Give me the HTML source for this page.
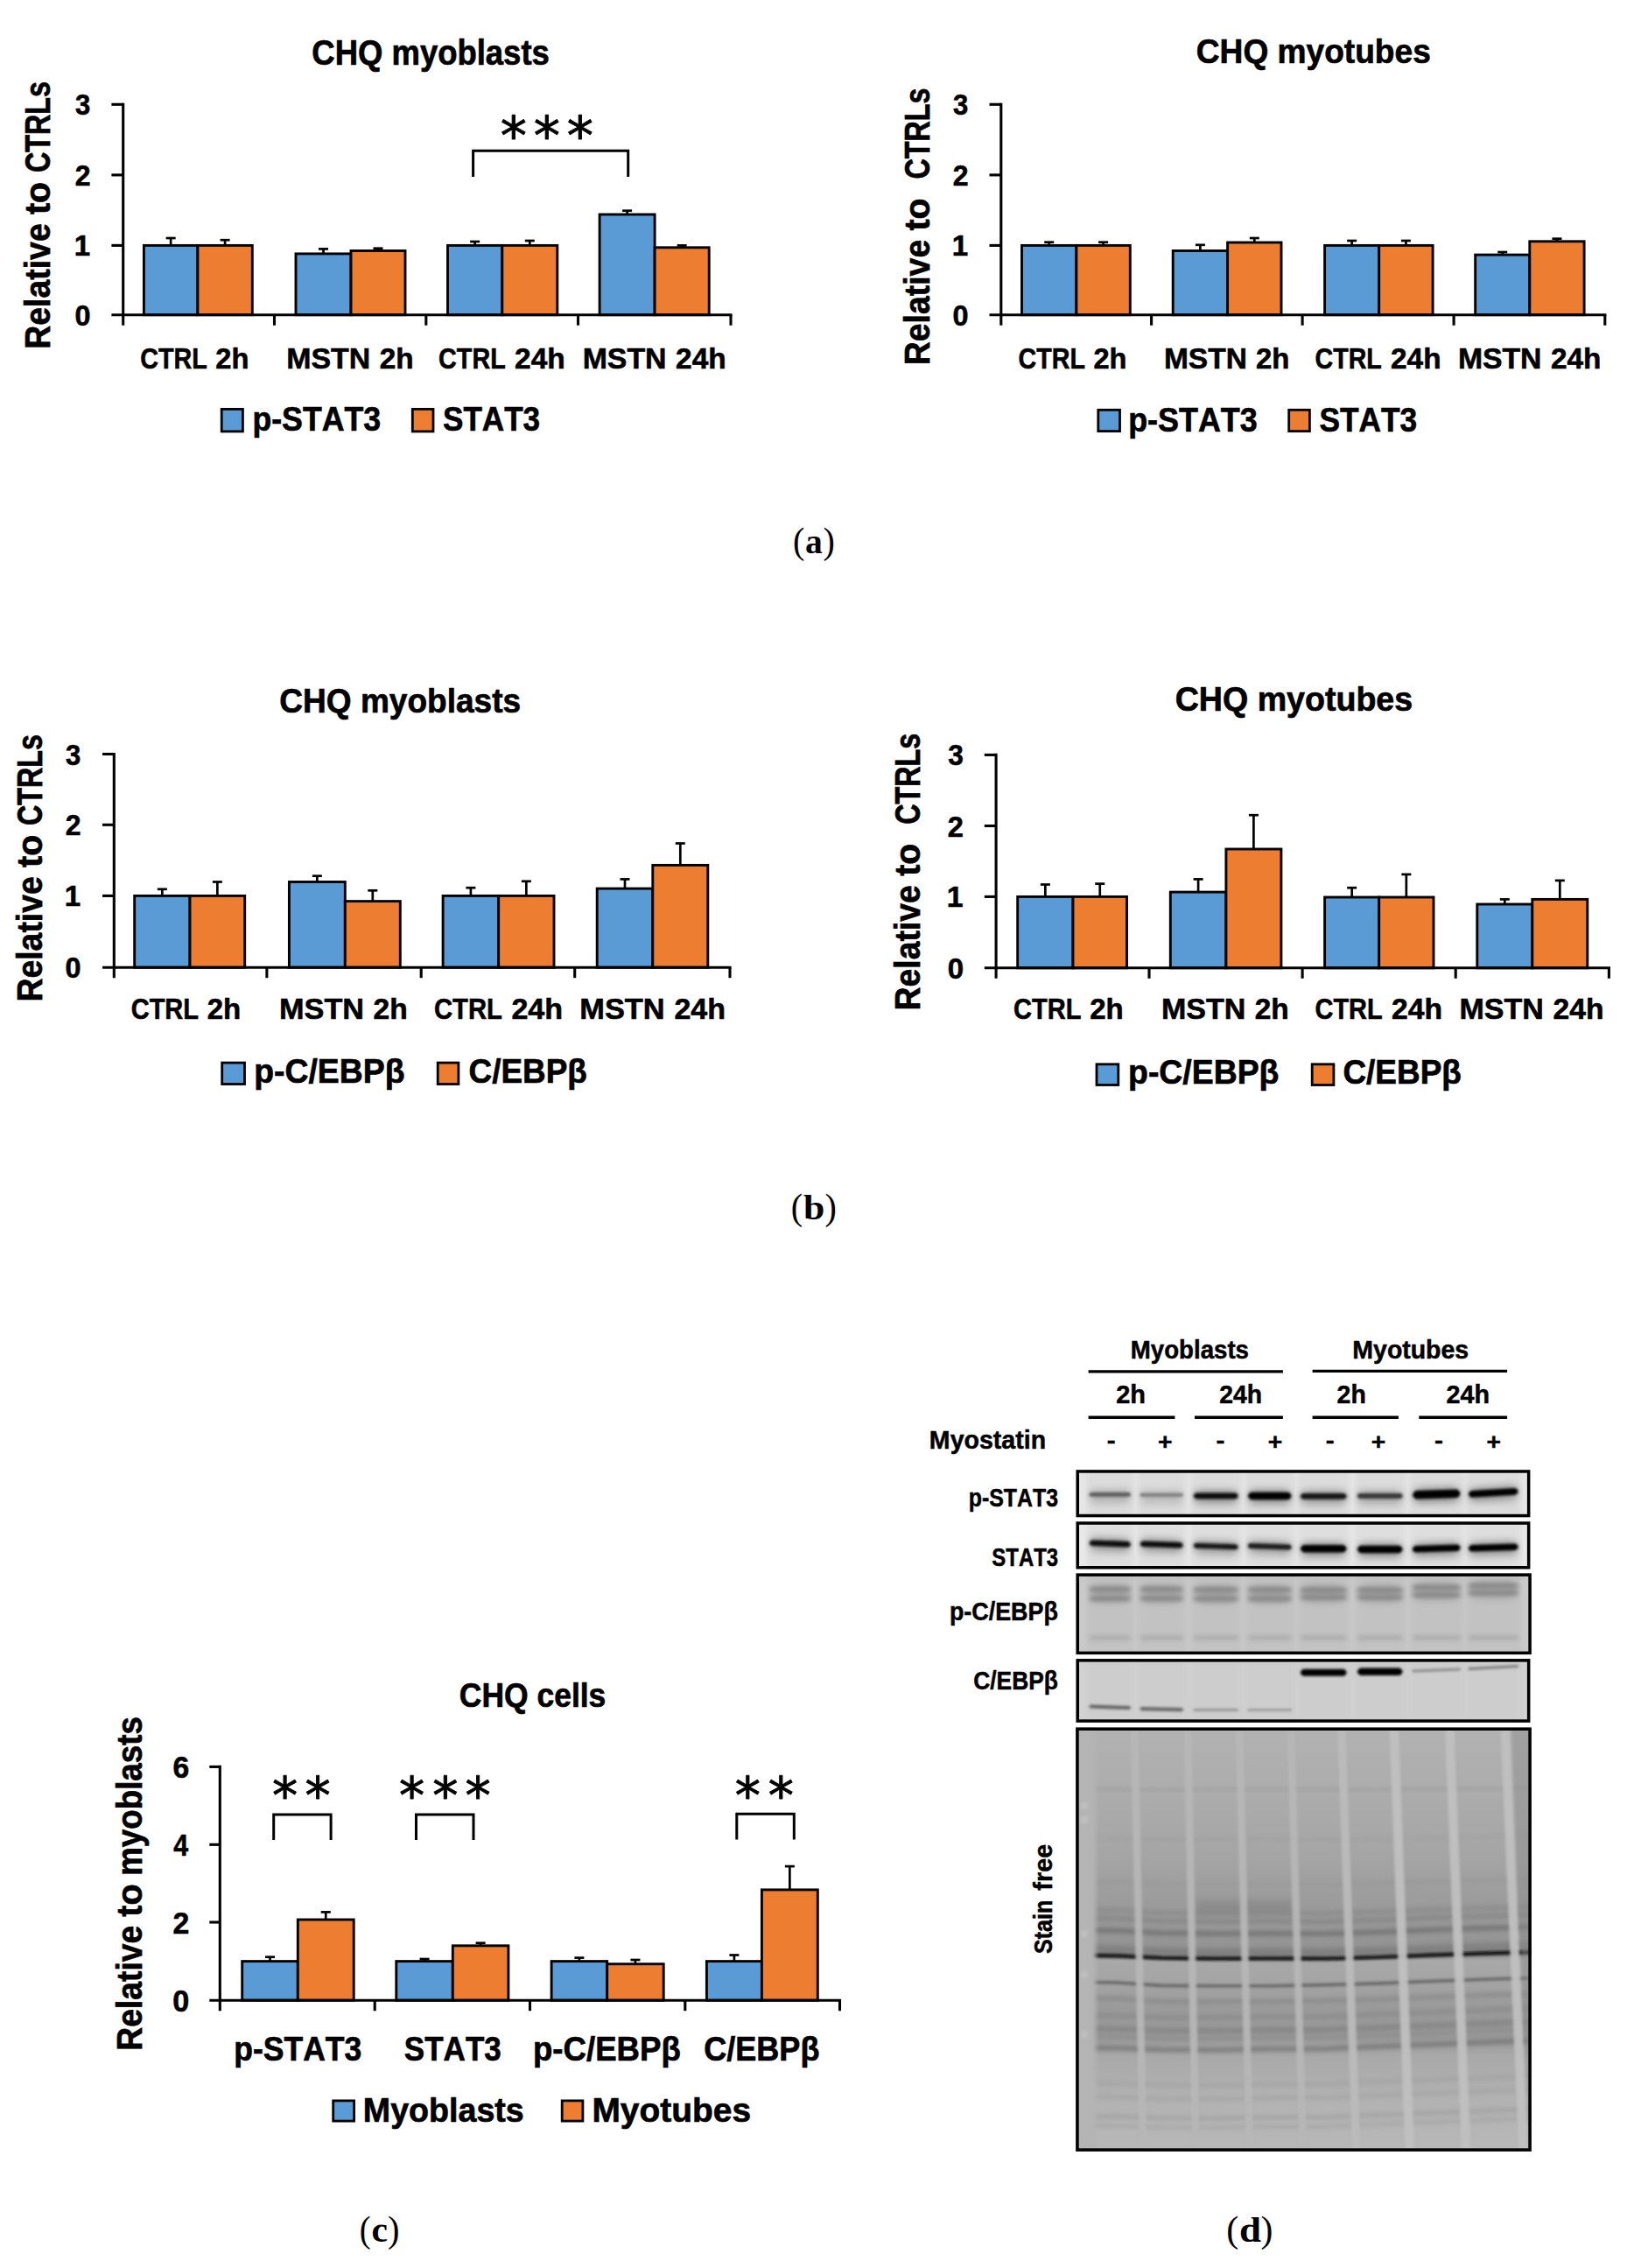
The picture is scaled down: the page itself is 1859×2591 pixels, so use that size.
<!DOCTYPE html>
<html><head><meta charset="utf-8"><title>Figure</title>
<style>html,body{margin:0;padding:0;background:#fff}svg{display:block}text{font-kerning:none}</style></head>
<body><svg width="1859" height="2591" viewBox="0 0 1859 2591">
<rect x="0" y="0" width="1859" height="2591" fill="#fff"/>
<rect x="164.40" y="280.40" width="61.50" height="79.30" fill="#5B9BD5" stroke="#000" stroke-width="2.9"/>
<rect x="225.90" y="280.40" width="62.40" height="79.30" fill="#ED7D31" stroke="#000" stroke-width="2.9"/>
<line x1="195.15" y1="280.40" x2="195.15" y2="272.00" stroke="#000" stroke-width="2.7" stroke-linecap="butt"/>
<line x1="189.65" y1="272.00" x2="200.65" y2="272.00" stroke="#000" stroke-width="2.7" stroke-linecap="butt"/>
<line x1="257.10" y1="280.40" x2="257.10" y2="274.20" stroke="#000" stroke-width="2.7" stroke-linecap="butt"/>
<line x1="251.60" y1="274.20" x2="262.60" y2="274.20" stroke="#000" stroke-width="2.7" stroke-linecap="butt"/>
<rect x="338.00" y="289.90" width="63.00" height="69.80" fill="#5B9BD5" stroke="#000" stroke-width="2.9"/>
<rect x="401.00" y="286.50" width="62.00" height="73.20" fill="#ED7D31" stroke="#000" stroke-width="2.9"/>
<line x1="369.50" y1="289.90" x2="369.50" y2="284.40" stroke="#000" stroke-width="2.7" stroke-linecap="butt"/>
<line x1="364.00" y1="284.40" x2="375.00" y2="284.40" stroke="#000" stroke-width="2.7" stroke-linecap="butt"/>
<line x1="432.00" y1="286.50" x2="432.00" y2="283.70" stroke="#000" stroke-width="2.7" stroke-linecap="butt"/>
<line x1="426.50" y1="283.70" x2="437.50" y2="283.70" stroke="#000" stroke-width="2.7" stroke-linecap="butt"/>
<rect x="511.50" y="280.40" width="62.30" height="79.30" fill="#5B9BD5" stroke="#000" stroke-width="2.9"/>
<rect x="573.80" y="280.40" width="63.00" height="79.30" fill="#ED7D31" stroke="#000" stroke-width="2.9"/>
<line x1="542.65" y1="280.40" x2="542.65" y2="276.00" stroke="#000" stroke-width="2.7" stroke-linecap="butt"/>
<line x1="537.15" y1="276.00" x2="548.15" y2="276.00" stroke="#000" stroke-width="2.7" stroke-linecap="butt"/>
<line x1="605.30" y1="280.40" x2="605.30" y2="275.00" stroke="#000" stroke-width="2.7" stroke-linecap="butt"/>
<line x1="599.80" y1="275.00" x2="610.80" y2="275.00" stroke="#000" stroke-width="2.7" stroke-linecap="butt"/>
<rect x="685.10" y="245.00" width="63.00" height="114.70" fill="#5B9BD5" stroke="#000" stroke-width="2.9"/>
<rect x="748.10" y="282.80" width="62.10" height="76.90" fill="#ED7D31" stroke="#000" stroke-width="2.9"/>
<line x1="716.60" y1="245.00" x2="716.60" y2="240.70" stroke="#000" stroke-width="2.7" stroke-linecap="butt"/>
<line x1="711.10" y1="240.70" x2="722.10" y2="240.70" stroke="#000" stroke-width="2.7" stroke-linecap="butt"/>
<line x1="779.15" y1="282.80" x2="779.15" y2="280.40" stroke="#000" stroke-width="2.7" stroke-linecap="butt"/>
<line x1="773.65" y1="280.40" x2="784.65" y2="280.40" stroke="#000" stroke-width="2.7" stroke-linecap="butt"/>
<line x1="140.70" y1="117.75" x2="140.70" y2="371.70" stroke="#000" stroke-width="3.1" stroke-linecap="butt"/>
<line x1="127.40" y1="359.70" x2="836.55" y2="359.70" stroke="#000" stroke-width="3.1" stroke-linecap="butt"/>
<line x1="127.40" y1="119.30" x2="140.70" y2="119.30" stroke="#000" stroke-width="3.1" stroke-linecap="butt"/>
<line x1="127.40" y1="199.90" x2="140.70" y2="199.90" stroke="#000" stroke-width="3.1" stroke-linecap="butt"/>
<line x1="127.40" y1="280.40" x2="140.70" y2="280.40" stroke="#000" stroke-width="3.1" stroke-linecap="butt"/>
<line x1="313.50" y1="359.70" x2="313.50" y2="371.70" stroke="#000" stroke-width="3.1" stroke-linecap="butt"/>
<line x1="486.80" y1="359.70" x2="486.80" y2="371.70" stroke="#000" stroke-width="3.1" stroke-linecap="butt"/>
<line x1="660.50" y1="359.70" x2="660.50" y2="371.70" stroke="#000" stroke-width="3.1" stroke-linecap="butt"/>
<line x1="835.00" y1="359.70" x2="835.00" y2="371.70" stroke="#000" stroke-width="3.1" stroke-linecap="butt"/>
<text transform="translate(86.09,131.30) scale(0.9111,1)" font-family="'Liberation Sans',sans-serif" font-weight="bold" font-size="34.02" fill="#000" stroke="#000" stroke-width="0.59" xml:space="preserve">3</text>
<text transform="translate(85.69,211.90) scale(0.9406,1)" font-family="'Liberation Sans',sans-serif" font-weight="bold" font-size="34.02" fill="#000" stroke="#000" stroke-width="0.59" xml:space="preserve">2</text>
<text transform="translate(84.71,292.40) scale(0.9732,1)" font-family="'Liberation Sans',sans-serif" font-weight="bold" font-size="34.02" fill="#000" stroke="#000" stroke-width="0.59" xml:space="preserve">1</text>
<text transform="translate(85.52,371.70) scale(0.9522,1)" font-family="'Liberation Sans',sans-serif" font-weight="bold" font-size="34.02" fill="#000" stroke="#000" stroke-width="0.59" xml:space="preserve">0</text>
<text transform="translate(160.22,421.20) scale(0.8442,1)" font-family="'Liberation Sans',sans-serif" font-weight="bold" font-size="34.02" fill="#000" stroke="#000" stroke-width="0.59" xml:space="preserve">CTRL</text>
<text transform="translate(246.36,421.20) scale(0.9614,1)" font-family="'Liberation Sans',sans-serif" font-weight="bold" font-size="34.02" fill="#000" stroke="#000" stroke-width="0.59" xml:space="preserve">2h</text>
<text transform="translate(327.23,421.20) scale(0.9968,1)" font-family="'Liberation Sans',sans-serif" font-weight="bold" font-size="34.02" fill="#000" stroke="#000" stroke-width="0.59" xml:space="preserve">MSTN</text>
<text transform="translate(433.66,421.20) scale(0.9801,1)" font-family="'Liberation Sans',sans-serif" font-weight="bold" font-size="34.02" fill="#000" stroke="#000" stroke-width="0.59" xml:space="preserve">2h</text>
<text transform="translate(501.12,421.20) scale(0.8445,1)" font-family="'Liberation Sans',sans-serif" font-weight="bold" font-size="34.02" fill="#000" stroke="#000" stroke-width="0.59" xml:space="preserve">CTRL</text>
<text transform="translate(588.05,421.20) scale(0.9848,1)" font-family="'Liberation Sans',sans-serif" font-weight="bold" font-size="34.02" fill="#000" stroke="#000" stroke-width="0.59" xml:space="preserve">24h</text>
<text transform="translate(665.63,421.20) scale(0.9953,1)" font-family="'Liberation Sans',sans-serif" font-weight="bold" font-size="34.02" fill="#000" stroke="#000" stroke-width="0.59" xml:space="preserve">MSTN</text>
<text transform="translate(772.09,421.20) scale(0.9840,1)" font-family="'Liberation Sans',sans-serif" font-weight="bold" font-size="34.02" fill="#000" stroke="#000" stroke-width="0.59" xml:space="preserve">24h</text>
<text transform="translate(57.05,197.07) rotate(-90) scale(0.8070,1)" font-family="'Liberation Sans',sans-serif" font-weight="bold" font-size="39.98" fill="#000" stroke="#000" stroke-width="0.70" xml:space="preserve">CTRLs</text>
<text transform="translate(57.05,245.03) rotate(-90) scale(0.9810,1)" font-family="'Liberation Sans',sans-serif" font-weight="bold" font-size="39.98" fill="#000" stroke="#000" stroke-width="0.70" xml:space="preserve">to</text>
<text transform="translate(57.05,398.65) rotate(-90) scale(0.9352,1)" font-family="'Liberation Sans',sans-serif" font-weight="bold" font-size="39.98" fill="#000" stroke="#000" stroke-width="0.70" xml:space="preserve">Relative</text>
<text transform="translate(356.35,74.25) scale(0.9121,1)" font-family="'Liberation Sans',sans-serif" font-weight="bold" font-size="39.98" fill="#000" stroke="#000" stroke-width="0.70" xml:space="preserve">CHQ myoblasts</text>
<rect x="253.20" y="467.40" width="24.20" height="25.50" fill="#5B9BD5" stroke="#000" stroke-width="2.8"/>
<text transform="translate(288.38,492.41) scale(0.9260,1)" font-family="'Liberation Sans',sans-serif" font-weight="bold" font-size="38.56" fill="#000" stroke="#000" stroke-width="0.67" xml:space="preserve">p-STAT3</text>
<rect x="471.30" y="467.40" width="23.70" height="25.50" fill="#ED7D31" stroke="#000" stroke-width="2.8"/>
<text transform="translate(506.03,492.41) scale(0.9099,1)" font-family="'Liberation Sans',sans-serif" font-weight="bold" font-size="38.56" fill="#000" stroke="#000" stroke-width="0.67" xml:space="preserve">STAT3</text>
<text x="571.83" y="175.50" font-family="'DejaVu Sans',sans-serif" font-size="60.30" fill="#000" stroke="#000" stroke-width="0.9" stroke-linejoin="round">*</text>
<text x="609.73" y="175.50" font-family="'DejaVu Sans',sans-serif" font-size="60.30" fill="#000" stroke="#000" stroke-width="0.9" stroke-linejoin="round">*</text>
<text x="647.63" y="175.50" font-family="'DejaVu Sans',sans-serif" font-size="60.30" fill="#000" stroke="#000" stroke-width="0.9" stroke-linejoin="round">*</text>
<path d="M540.60,202.00 V172.20 H717.70 V202.00" fill="none" stroke="#000" stroke-width="3" stroke-linejoin="miter"/>
<rect x="1167.50" y="280.40" width="62.40" height="79.30" fill="#5B9BD5" stroke="#000" stroke-width="2.9"/>
<rect x="1229.90" y="280.40" width="61.40" height="79.30" fill="#ED7D31" stroke="#000" stroke-width="2.9"/>
<line x1="1198.70" y1="280.40" x2="1198.70" y2="276.70" stroke="#000" stroke-width="2.7" stroke-linecap="butt"/>
<line x1="1193.20" y1="276.70" x2="1204.20" y2="276.70" stroke="#000" stroke-width="2.7" stroke-linecap="butt"/>
<line x1="1260.60" y1="280.40" x2="1260.60" y2="276.70" stroke="#000" stroke-width="2.7" stroke-linecap="butt"/>
<line x1="1255.10" y1="276.70" x2="1266.10" y2="276.70" stroke="#000" stroke-width="2.7" stroke-linecap="butt"/>
<rect x="1340.20" y="286.50" width="62.40" height="73.20" fill="#5B9BD5" stroke="#000" stroke-width="2.9"/>
<rect x="1402.60" y="277.00" width="61.40" height="82.70" fill="#ED7D31" stroke="#000" stroke-width="2.9"/>
<line x1="1371.40" y1="286.50" x2="1371.40" y2="279.80" stroke="#000" stroke-width="2.7" stroke-linecap="butt"/>
<line x1="1365.90" y1="279.80" x2="1376.90" y2="279.80" stroke="#000" stroke-width="2.7" stroke-linecap="butt"/>
<line x1="1433.30" y1="277.00" x2="1433.30" y2="272.00" stroke="#000" stroke-width="2.7" stroke-linecap="butt"/>
<line x1="1427.80" y1="272.00" x2="1438.80" y2="272.00" stroke="#000" stroke-width="2.7" stroke-linecap="butt"/>
<rect x="1513.60" y="280.40" width="62.10" height="79.30" fill="#5B9BD5" stroke="#000" stroke-width="2.9"/>
<rect x="1575.70" y="280.40" width="61.40" height="79.30" fill="#ED7D31" stroke="#000" stroke-width="2.9"/>
<line x1="1544.65" y1="280.40" x2="1544.65" y2="275.00" stroke="#000" stroke-width="2.7" stroke-linecap="butt"/>
<line x1="1539.15" y1="275.00" x2="1550.15" y2="275.00" stroke="#000" stroke-width="2.7" stroke-linecap="butt"/>
<line x1="1606.40" y1="280.40" x2="1606.40" y2="275.00" stroke="#000" stroke-width="2.7" stroke-linecap="butt"/>
<line x1="1600.90" y1="275.00" x2="1611.90" y2="275.00" stroke="#000" stroke-width="2.7" stroke-linecap="butt"/>
<rect x="1685.70" y="291.10" width="62.10" height="68.60" fill="#5B9BD5" stroke="#000" stroke-width="2.9"/>
<rect x="1747.80" y="275.80" width="62.30" height="83.90" fill="#ED7D31" stroke="#000" stroke-width="2.9"/>
<line x1="1716.75" y1="291.10" x2="1716.75" y2="288.00" stroke="#000" stroke-width="2.7" stroke-linecap="butt"/>
<line x1="1711.25" y1="288.00" x2="1722.25" y2="288.00" stroke="#000" stroke-width="2.7" stroke-linecap="butt"/>
<line x1="1778.95" y1="275.80" x2="1778.95" y2="272.70" stroke="#000" stroke-width="2.7" stroke-linecap="butt"/>
<line x1="1773.45" y1="272.70" x2="1784.45" y2="272.70" stroke="#000" stroke-width="2.7" stroke-linecap="butt"/>
<line x1="1143.80" y1="117.75" x2="1143.80" y2="371.70" stroke="#000" stroke-width="3.1" stroke-linecap="butt"/>
<line x1="1130.50" y1="359.70" x2="1835.35" y2="359.70" stroke="#000" stroke-width="3.1" stroke-linecap="butt"/>
<line x1="1130.50" y1="119.30" x2="1143.80" y2="119.30" stroke="#000" stroke-width="3.1" stroke-linecap="butt"/>
<line x1="1130.50" y1="199.90" x2="1143.80" y2="199.90" stroke="#000" stroke-width="3.1" stroke-linecap="butt"/>
<line x1="1130.50" y1="280.40" x2="1143.80" y2="280.40" stroke="#000" stroke-width="3.1" stroke-linecap="butt"/>
<line x1="1315.60" y1="359.70" x2="1315.60" y2="371.70" stroke="#000" stroke-width="3.1" stroke-linecap="butt"/>
<line x1="1488.10" y1="359.70" x2="1488.10" y2="371.70" stroke="#000" stroke-width="3.1" stroke-linecap="butt"/>
<line x1="1661.10" y1="359.70" x2="1661.10" y2="371.70" stroke="#000" stroke-width="3.1" stroke-linecap="butt"/>
<line x1="1833.80" y1="359.70" x2="1833.80" y2="371.70" stroke="#000" stroke-width="3.1" stroke-linecap="butt"/>
<text transform="translate(1089.09,131.30) scale(0.9111,1)" font-family="'Liberation Sans',sans-serif" font-weight="bold" font-size="34.02" fill="#000" stroke="#000" stroke-width="0.59" xml:space="preserve">3</text>
<text transform="translate(1088.69,211.90) scale(0.9406,1)" font-family="'Liberation Sans',sans-serif" font-weight="bold" font-size="34.02" fill="#000" stroke="#000" stroke-width="0.59" xml:space="preserve">2</text>
<text transform="translate(1087.71,292.40) scale(0.9732,1)" font-family="'Liberation Sans',sans-serif" font-weight="bold" font-size="34.02" fill="#000" stroke="#000" stroke-width="0.59" xml:space="preserve">1</text>
<text transform="translate(1088.52,371.70) scale(0.9522,1)" font-family="'Liberation Sans',sans-serif" font-weight="bold" font-size="34.02" fill="#000" stroke="#000" stroke-width="0.59" xml:space="preserve">0</text>
<text transform="translate(1163.52,421.20) scale(0.8421,1)" font-family="'Liberation Sans',sans-serif" font-weight="bold" font-size="34.02" fill="#000" stroke="#000" stroke-width="0.59" xml:space="preserve">CTRL</text>
<text transform="translate(1249.45,421.20) scale(0.9590,1)" font-family="'Liberation Sans',sans-serif" font-weight="bold" font-size="34.02" fill="#000" stroke="#000" stroke-width="0.59" xml:space="preserve">2h</text>
<text transform="translate(1329.96,421.20) scale(0.9841,1)" font-family="'Liberation Sans',sans-serif" font-weight="bold" font-size="34.02" fill="#000" stroke="#000" stroke-width="0.59" xml:space="preserve">MSTN</text>
<text transform="translate(1435.03,421.20) scale(0.9674,1)" font-family="'Liberation Sans',sans-serif" font-weight="bold" font-size="34.02" fill="#000" stroke="#000" stroke-width="0.59" xml:space="preserve">2h</text>
<text transform="translate(1502.52,421.20) scale(0.8409,1)" font-family="'Liberation Sans',sans-serif" font-weight="bold" font-size="34.02" fill="#000" stroke="#000" stroke-width="0.59" xml:space="preserve">CTRL</text>
<text transform="translate(1589.08,421.20) scale(0.9806,1)" font-family="'Liberation Sans',sans-serif" font-weight="bold" font-size="34.02" fill="#000" stroke="#000" stroke-width="0.59" xml:space="preserve">24h</text>
<text transform="translate(1665.94,421.20) scale(0.9915,1)" font-family="'Liberation Sans',sans-serif" font-weight="bold" font-size="34.02" fill="#000" stroke="#000" stroke-width="0.59" xml:space="preserve">MSTN</text>
<text transform="translate(1772.00,421.20) scale(0.9803,1)" font-family="'Liberation Sans',sans-serif" font-weight="bold" font-size="34.02" fill="#000" stroke="#000" stroke-width="0.59" xml:space="preserve">24h</text>
<text transform="translate(1061.95,204.47) rotate(-90) scale(0.8070,1)" font-family="'Liberation Sans',sans-serif" font-weight="bold" font-size="39.98" fill="#000" stroke="#000" stroke-width="0.70" xml:space="preserve">CTRLs</text>
<text transform="translate(1061.95,263.53) rotate(-90) scale(0.9810,1)" font-family="'Liberation Sans',sans-serif" font-weight="bold" font-size="39.98" fill="#000" stroke="#000" stroke-width="0.70" xml:space="preserve">to</text>
<text transform="translate(1061.95,417.15) rotate(-90) scale(0.9352,1)" font-family="'Liberation Sans',sans-serif" font-weight="bold" font-size="39.98" fill="#000" stroke="#000" stroke-width="0.70" xml:space="preserve">Relative</text>
<text transform="translate(1366.82,71.85) scale(0.9350,1)" font-family="'Liberation Sans',sans-serif" font-weight="bold" font-size="39.69" fill="#000" stroke="#000" stroke-width="0.69" xml:space="preserve">CHQ myotubes</text>
<rect x="1254.80" y="468.30" width="24.70" height="24.30" fill="#5B9BD5" stroke="#000" stroke-width="2.8"/>
<text transform="translate(1289.17,492.91) scale(0.9311,1)" font-family="'Liberation Sans',sans-serif" font-weight="bold" font-size="38.56" fill="#000" stroke="#000" stroke-width="0.67" xml:space="preserve">p-STAT3</text>
<rect x="1472.70" y="468.30" width="23.70" height="24.30" fill="#ED7D31" stroke="#000" stroke-width="2.8"/>
<text transform="translate(1507.42,492.91) scale(0.9149,1)" font-family="'Liberation Sans',sans-serif" font-weight="bold" font-size="38.56" fill="#000" stroke="#000" stroke-width="0.67" xml:space="preserve">STAT3</text>
<rect x="153.70" y="1023.40" width="63.30" height="81.80" fill="#5B9BD5" stroke="#000" stroke-width="2.9"/>
<rect x="217.00" y="1023.40" width="62.70" height="81.80" fill="#ED7D31" stroke="#000" stroke-width="2.9"/>
<line x1="185.35" y1="1023.40" x2="185.35" y2="1015.80" stroke="#000" stroke-width="2.7" stroke-linecap="butt"/>
<line x1="179.85" y1="1015.80" x2="190.85" y2="1015.80" stroke="#000" stroke-width="2.7" stroke-linecap="butt"/>
<line x1="248.35" y1="1023.40" x2="248.35" y2="1007.50" stroke="#000" stroke-width="2.7" stroke-linecap="butt"/>
<line x1="242.85" y1="1007.50" x2="253.85" y2="1007.50" stroke="#000" stroke-width="2.7" stroke-linecap="butt"/>
<rect x="330.40" y="1007.50" width="63.90" height="97.70" fill="#5B9BD5" stroke="#000" stroke-width="2.9"/>
<rect x="394.30" y="1029.60" width="63.00" height="75.60" fill="#ED7D31" stroke="#000" stroke-width="2.9"/>
<line x1="362.35" y1="1007.50" x2="362.35" y2="1000.70" stroke="#000" stroke-width="2.7" stroke-linecap="butt"/>
<line x1="356.85" y1="1000.70" x2="367.85" y2="1000.70" stroke="#000" stroke-width="2.7" stroke-linecap="butt"/>
<line x1="425.80" y1="1029.60" x2="425.80" y2="1017.30" stroke="#000" stroke-width="2.7" stroke-linecap="butt"/>
<line x1="420.30" y1="1017.30" x2="431.30" y2="1017.30" stroke="#000" stroke-width="2.7" stroke-linecap="butt"/>
<rect x="506.10" y="1023.40" width="63.60" height="81.80" fill="#5B9BD5" stroke="#000" stroke-width="2.9"/>
<rect x="569.70" y="1023.40" width="63.30" height="81.80" fill="#ED7D31" stroke="#000" stroke-width="2.9"/>
<line x1="537.90" y1="1023.40" x2="537.90" y2="1014.20" stroke="#000" stroke-width="2.7" stroke-linecap="butt"/>
<line x1="532.40" y1="1014.20" x2="543.40" y2="1014.20" stroke="#000" stroke-width="2.7" stroke-linecap="butt"/>
<line x1="601.35" y1="1023.40" x2="601.35" y2="1006.80" stroke="#000" stroke-width="2.7" stroke-linecap="butt"/>
<line x1="595.85" y1="1006.80" x2="606.85" y2="1006.80" stroke="#000" stroke-width="2.7" stroke-linecap="butt"/>
<rect x="682.20" y="1015.10" width="63.60" height="90.10" fill="#5B9BD5" stroke="#000" stroke-width="2.9"/>
<rect x="745.80" y="988.40" width="63.00" height="116.80" fill="#ED7D31" stroke="#000" stroke-width="2.9"/>
<line x1="714.00" y1="1015.10" x2="714.00" y2="1004.40" stroke="#000" stroke-width="2.7" stroke-linecap="butt"/>
<line x1="708.50" y1="1004.40" x2="719.50" y2="1004.40" stroke="#000" stroke-width="2.7" stroke-linecap="butt"/>
<line x1="777.30" y1="988.40" x2="777.30" y2="963.50" stroke="#000" stroke-width="2.7" stroke-linecap="butt"/>
<line x1="771.80" y1="963.50" x2="782.80" y2="963.50" stroke="#000" stroke-width="2.7" stroke-linecap="butt"/>
<line x1="130.30" y1="859.95" x2="130.30" y2="1117.20" stroke="#000" stroke-width="3.1" stroke-linecap="butt"/>
<line x1="117.00" y1="1105.20" x2="835.55" y2="1105.20" stroke="#000" stroke-width="3.1" stroke-linecap="butt"/>
<line x1="117.00" y1="861.50" x2="130.30" y2="861.50" stroke="#000" stroke-width="3.1" stroke-linecap="butt"/>
<line x1="117.00" y1="942.30" x2="130.30" y2="942.30" stroke="#000" stroke-width="3.1" stroke-linecap="butt"/>
<line x1="117.00" y1="1023.40" x2="130.30" y2="1023.40" stroke="#000" stroke-width="3.1" stroke-linecap="butt"/>
<line x1="304.90" y1="1105.20" x2="304.90" y2="1117.20" stroke="#000" stroke-width="3.1" stroke-linecap="butt"/>
<line x1="481.20" y1="1105.20" x2="481.20" y2="1117.20" stroke="#000" stroke-width="3.1" stroke-linecap="butt"/>
<line x1="656.70" y1="1105.20" x2="656.70" y2="1117.20" stroke="#000" stroke-width="3.1" stroke-linecap="butt"/>
<line x1="834.00" y1="1105.20" x2="834.00" y2="1117.20" stroke="#000" stroke-width="3.1" stroke-linecap="butt"/>
<text transform="translate(75.09,873.50) scale(0.9111,1)" font-family="'Liberation Sans',sans-serif" font-weight="bold" font-size="34.02" fill="#000" stroke="#000" stroke-width="0.59" xml:space="preserve">3</text>
<text transform="translate(74.69,954.30) scale(0.9406,1)" font-family="'Liberation Sans',sans-serif" font-weight="bold" font-size="34.02" fill="#000" stroke="#000" stroke-width="0.59" xml:space="preserve">2</text>
<text transform="translate(73.71,1035.40) scale(0.9732,1)" font-family="'Liberation Sans',sans-serif" font-weight="bold" font-size="34.02" fill="#000" stroke="#000" stroke-width="0.59" xml:space="preserve">1</text>
<text transform="translate(74.52,1117.20) scale(0.9522,1)" font-family="'Liberation Sans',sans-serif" font-weight="bold" font-size="34.02" fill="#000" stroke="#000" stroke-width="0.59" xml:space="preserve">0</text>
<text transform="translate(149.71,1163.90) scale(0.8526,1)" font-family="'Liberation Sans',sans-serif" font-weight="bold" font-size="34.02" fill="#000" stroke="#000" stroke-width="0.59" xml:space="preserve">CTRL</text>
<text transform="translate(236.70,1163.90) scale(0.9710,1)" font-family="'Liberation Sans',sans-serif" font-weight="bold" font-size="34.02" fill="#000" stroke="#000" stroke-width="0.59" xml:space="preserve">2h</text>
<text transform="translate(319.11,1163.90) scale(1.0060,1)" font-family="'Liberation Sans',sans-serif" font-weight="bold" font-size="34.02" fill="#000" stroke="#000" stroke-width="0.59" xml:space="preserve">MSTN</text>
<text transform="translate(426.51,1163.90) scale(0.9892,1)" font-family="'Liberation Sans',sans-serif" font-weight="bold" font-size="34.02" fill="#000" stroke="#000" stroke-width="0.59" xml:space="preserve">2h</text>
<text transform="translate(496.00,1163.90) scale(0.8589,1)" font-family="'Liberation Sans',sans-serif" font-weight="bold" font-size="34.02" fill="#000" stroke="#000" stroke-width="0.59" xml:space="preserve">CTRL</text>
<text transform="translate(584.40,1163.90) scale(1.0016,1)" font-family="'Liberation Sans',sans-serif" font-weight="bold" font-size="34.02" fill="#000" stroke="#000" stroke-width="0.59" xml:space="preserve">24h</text>
<text transform="translate(662.30,1163.90) scale(1.0109,1)" font-family="'Liberation Sans',sans-serif" font-weight="bold" font-size="34.02" fill="#000" stroke="#000" stroke-width="0.59" xml:space="preserve">MSTN</text>
<text transform="translate(770.42,1163.90) scale(0.9995,1)" font-family="'Liberation Sans',sans-serif" font-weight="bold" font-size="34.02" fill="#000" stroke="#000" stroke-width="0.59" xml:space="preserve">24h</text>
<text transform="translate(48.45,942.97) rotate(-90) scale(0.8070,1)" font-family="'Liberation Sans',sans-serif" font-weight="bold" font-size="39.98" fill="#000" stroke="#000" stroke-width="0.70" xml:space="preserve">CTRLs</text>
<text transform="translate(48.45,990.93) rotate(-90) scale(0.9810,1)" font-family="'Liberation Sans',sans-serif" font-weight="bold" font-size="39.98" fill="#000" stroke="#000" stroke-width="0.70" xml:space="preserve">to</text>
<text transform="translate(48.45,1144.55) rotate(-90) scale(0.9352,1)" font-family="'Liberation Sans',sans-serif" font-weight="bold" font-size="39.98" fill="#000" stroke="#000" stroke-width="0.70" xml:space="preserve">Relative</text>
<text transform="translate(319.33,813.65) scale(0.9336,1)" font-family="'Liberation Sans',sans-serif" font-weight="bold" font-size="39.69" fill="#000" stroke="#000" stroke-width="0.69" xml:space="preserve">CHQ myoblasts</text>
<rect x="253.70" y="1214.10" width="25.80" height="24.40" fill="#5B9BD5" stroke="#000" stroke-width="2.8"/>
<text transform="translate(290.17,1237.41) scale(0.9695,1)" font-family="'Liberation Sans',sans-serif" font-weight="bold" font-size="38.56" fill="#000" stroke="#000" stroke-width="0.67" xml:space="preserve">p-C/EBPβ</text>
<rect x="500.20" y="1214.10" width="23.70" height="24.40" fill="#ED7D31" stroke="#000" stroke-width="2.8"/>
<text transform="translate(535.52,1237.41) scale(0.9569,1)" font-family="'Liberation Sans',sans-serif" font-weight="bold" font-size="38.56" fill="#000" stroke="#000" stroke-width="0.67" xml:space="preserve">C/EBPβ</text>
<rect x="1162.70" y="1024.40" width="63.30" height="81.40" fill="#5B9BD5" stroke="#000" stroke-width="2.9"/>
<rect x="1226.00" y="1024.40" width="61.50" height="81.40" fill="#ED7D31" stroke="#000" stroke-width="2.9"/>
<line x1="1194.35" y1="1024.40" x2="1194.35" y2="1010.50" stroke="#000" stroke-width="2.7" stroke-linecap="butt"/>
<line x1="1188.85" y1="1010.50" x2="1199.85" y2="1010.50" stroke="#000" stroke-width="2.7" stroke-linecap="butt"/>
<line x1="1256.75" y1="1024.40" x2="1256.75" y2="1009.60" stroke="#000" stroke-width="2.7" stroke-linecap="butt"/>
<line x1="1251.25" y1="1009.60" x2="1262.25" y2="1009.60" stroke="#000" stroke-width="2.7" stroke-linecap="butt"/>
<rect x="1337.30" y="1019.10" width="63.60" height="86.70" fill="#5B9BD5" stroke="#000" stroke-width="2.9"/>
<rect x="1400.90" y="970.00" width="63.00" height="135.80" fill="#ED7D31" stroke="#000" stroke-width="2.9"/>
<line x1="1369.10" y1="1019.10" x2="1369.10" y2="1004.40" stroke="#000" stroke-width="2.7" stroke-linecap="butt"/>
<line x1="1363.60" y1="1004.40" x2="1374.60" y2="1004.40" stroke="#000" stroke-width="2.7" stroke-linecap="butt"/>
<line x1="1432.40" y1="970.00" x2="1432.40" y2="931.20" stroke="#000" stroke-width="2.7" stroke-linecap="butt"/>
<line x1="1426.90" y1="931.20" x2="1437.90" y2="931.20" stroke="#000" stroke-width="2.7" stroke-linecap="butt"/>
<rect x="1513.60" y="1025.00" width="62.10" height="80.80" fill="#5B9BD5" stroke="#000" stroke-width="2.9"/>
<rect x="1575.70" y="1025.00" width="62.30" height="80.80" fill="#ED7D31" stroke="#000" stroke-width="2.9"/>
<line x1="1544.65" y1="1025.00" x2="1544.65" y2="1014.20" stroke="#000" stroke-width="2.7" stroke-linecap="butt"/>
<line x1="1539.15" y1="1014.20" x2="1550.15" y2="1014.20" stroke="#000" stroke-width="2.7" stroke-linecap="butt"/>
<line x1="1606.85" y1="1025.00" x2="1606.85" y2="998.90" stroke="#000" stroke-width="2.7" stroke-linecap="butt"/>
<line x1="1601.35" y1="998.90" x2="1612.35" y2="998.90" stroke="#000" stroke-width="2.7" stroke-linecap="butt"/>
<rect x="1687.80" y="1033.00" width="63.00" height="72.80" fill="#5B9BD5" stroke="#000" stroke-width="2.9"/>
<rect x="1750.80" y="1027.40" width="63.00" height="78.40" fill="#ED7D31" stroke="#000" stroke-width="2.9"/>
<line x1="1719.30" y1="1033.00" x2="1719.30" y2="1027.40" stroke="#000" stroke-width="2.7" stroke-linecap="butt"/>
<line x1="1713.80" y1="1027.40" x2="1724.80" y2="1027.40" stroke="#000" stroke-width="2.7" stroke-linecap="butt"/>
<line x1="1782.30" y1="1027.40" x2="1782.30" y2="1005.90" stroke="#000" stroke-width="2.7" stroke-linecap="butt"/>
<line x1="1776.80" y1="1005.90" x2="1787.80" y2="1005.90" stroke="#000" stroke-width="2.7" stroke-linecap="butt"/>
<line x1="1138.10" y1="860.85" x2="1138.10" y2="1117.80" stroke="#000" stroke-width="3.1" stroke-linecap="butt"/>
<line x1="1124.80" y1="1105.80" x2="1839.95" y2="1105.80" stroke="#000" stroke-width="3.1" stroke-linecap="butt"/>
<line x1="1124.80" y1="862.40" x2="1138.10" y2="862.40" stroke="#000" stroke-width="3.1" stroke-linecap="butt"/>
<line x1="1124.80" y1="943.50" x2="1138.10" y2="943.50" stroke="#000" stroke-width="3.1" stroke-linecap="butt"/>
<line x1="1124.80" y1="1024.40" x2="1138.10" y2="1024.40" stroke="#000" stroke-width="3.1" stroke-linecap="butt"/>
<line x1="1313.00" y1="1105.80" x2="1313.00" y2="1117.80" stroke="#000" stroke-width="3.1" stroke-linecap="butt"/>
<line x1="1488.10" y1="1105.80" x2="1488.10" y2="1117.80" stroke="#000" stroke-width="3.1" stroke-linecap="butt"/>
<line x1="1663.20" y1="1105.80" x2="1663.20" y2="1117.80" stroke="#000" stroke-width="3.1" stroke-linecap="butt"/>
<line x1="1838.40" y1="1105.80" x2="1838.40" y2="1117.80" stroke="#000" stroke-width="3.1" stroke-linecap="butt"/>
<text transform="translate(1083.27,874.40) scale(0.9288,1)" font-family="'Liberation Sans',sans-serif" font-weight="bold" font-size="34.02" fill="#000" stroke="#000" stroke-width="0.59" xml:space="preserve">3</text>
<text transform="translate(1082.87,955.50) scale(0.9589,1)" font-family="'Liberation Sans',sans-serif" font-weight="bold" font-size="34.02" fill="#000" stroke="#000" stroke-width="0.59" xml:space="preserve">2</text>
<text transform="translate(1081.87,1036.40) scale(0.9921,1)" font-family="'Liberation Sans',sans-serif" font-weight="bold" font-size="34.02" fill="#000" stroke="#000" stroke-width="0.59" xml:space="preserve">1</text>
<text transform="translate(1082.69,1117.80) scale(0.9707,1)" font-family="'Liberation Sans',sans-serif" font-weight="bold" font-size="34.02" fill="#000" stroke="#000" stroke-width="0.59" xml:space="preserve">0</text>
<text transform="translate(1158.11,1164.20) scale(0.8533,1)" font-family="'Liberation Sans',sans-serif" font-weight="bold" font-size="34.02" fill="#000" stroke="#000" stroke-width="0.59" xml:space="preserve">CTRL</text>
<text transform="translate(1245.17,1164.20) scale(0.9718,1)" font-family="'Liberation Sans',sans-serif" font-weight="bold" font-size="34.02" fill="#000" stroke="#000" stroke-width="0.59" xml:space="preserve">2h</text>
<text transform="translate(1327.02,1164.20) scale(0.9996,1)" font-family="'Liberation Sans',sans-serif" font-weight="bold" font-size="34.02" fill="#000" stroke="#000" stroke-width="0.59" xml:space="preserve">MSTN</text>
<text transform="translate(1433.75,1164.20) scale(0.9829,1)" font-family="'Liberation Sans',sans-serif" font-weight="bold" font-size="34.02" fill="#000" stroke="#000" stroke-width="0.59" xml:space="preserve">2h</text>
<text transform="translate(1502.51,1164.20) scale(0.8499,1)" font-family="'Liberation Sans',sans-serif" font-weight="bold" font-size="34.02" fill="#000" stroke="#000" stroke-width="0.59" xml:space="preserve">CTRL</text>
<text transform="translate(1589.99,1164.20) scale(0.9911,1)" font-family="'Liberation Sans',sans-serif" font-weight="bold" font-size="34.02" fill="#000" stroke="#000" stroke-width="0.59" xml:space="preserve">24h</text>
<text transform="translate(1667.42,1164.20) scale(1.0009,1)" font-family="'Liberation Sans',sans-serif" font-weight="bold" font-size="34.02" fill="#000" stroke="#000" stroke-width="0.59" xml:space="preserve">MSTN</text>
<text transform="translate(1774.48,1164.20) scale(0.9896,1)" font-family="'Liberation Sans',sans-serif" font-weight="bold" font-size="34.02" fill="#000" stroke="#000" stroke-width="0.59" xml:space="preserve">24h</text>
<text transform="translate(1050.85,941.77) rotate(-90) scale(0.8070,1)" font-family="'Liberation Sans',sans-serif" font-weight="bold" font-size="39.98" fill="#000" stroke="#000" stroke-width="0.70" xml:space="preserve">CTRLs</text>
<text transform="translate(1050.85,1000.83) rotate(-90) scale(0.9810,1)" font-family="'Liberation Sans',sans-serif" font-weight="bold" font-size="39.98" fill="#000" stroke="#000" stroke-width="0.70" xml:space="preserve">to</text>
<text transform="translate(1050.85,1154.45) rotate(-90) scale(0.9352,1)" font-family="'Liberation Sans',sans-serif" font-weight="bold" font-size="39.98" fill="#000" stroke="#000" stroke-width="0.70" xml:space="preserve">Relative</text>
<text transform="translate(1342.70,811.85) scale(0.9473,1)" font-family="'Liberation Sans',sans-serif" font-weight="bold" font-size="39.69" fill="#000" stroke="#000" stroke-width="0.69" xml:space="preserve">CHQ myotubes</text>
<rect x="1253.00" y="1215.80" width="24.80" height="23.70" fill="#5B9BD5" stroke="#000" stroke-width="2.8"/>
<text transform="translate(1289.07,1238.41) scale(0.9701,1)" font-family="'Liberation Sans',sans-serif" font-weight="bold" font-size="38.56" fill="#000" stroke="#000" stroke-width="0.67" xml:space="preserve">p-C/EBPβ</text>
<rect x="1499.20" y="1215.80" width="24.70" height="23.70" fill="#ED7D31" stroke="#000" stroke-width="2.8"/>
<text transform="translate(1534.42,1238.41) scale(0.9577,1)" font-family="'Liberation Sans',sans-serif" font-weight="bold" font-size="38.56" fill="#000" stroke="#000" stroke-width="0.67" xml:space="preserve">C/EBPβ</text>
<rect x="276.70" y="2240.60" width="63.60" height="44.60" fill="#5B9BD5" stroke="#000" stroke-width="2.9"/>
<rect x="340.30" y="2193.00" width="63.90" height="92.20" fill="#ED7D31" stroke="#000" stroke-width="2.9"/>
<line x1="308.50" y1="2240.60" x2="308.50" y2="2235.70" stroke="#000" stroke-width="2.7" stroke-linecap="butt"/>
<line x1="303.00" y1="2235.70" x2="314.00" y2="2235.70" stroke="#000" stroke-width="2.7" stroke-linecap="butt"/>
<line x1="372.25" y1="2193.00" x2="372.25" y2="2184.40" stroke="#000" stroke-width="2.7" stroke-linecap="butt"/>
<line x1="366.75" y1="2184.40" x2="377.75" y2="2184.40" stroke="#000" stroke-width="2.7" stroke-linecap="butt"/>
<rect x="452.80" y="2240.60" width="64.50" height="44.60" fill="#5B9BD5" stroke="#000" stroke-width="2.9"/>
<rect x="517.30" y="2222.80" width="63.60" height="62.40" fill="#ED7D31" stroke="#000" stroke-width="2.9"/>
<line x1="485.05" y1="2240.60" x2="485.05" y2="2238.00" stroke="#000" stroke-width="2.7" stroke-linecap="butt"/>
<line x1="479.55" y1="2238.00" x2="490.55" y2="2238.00" stroke="#000" stroke-width="2.7" stroke-linecap="butt"/>
<line x1="549.10" y1="2222.80" x2="549.10" y2="2219.70" stroke="#000" stroke-width="2.7" stroke-linecap="butt"/>
<line x1="543.60" y1="2219.70" x2="554.60" y2="2219.70" stroke="#000" stroke-width="2.7" stroke-linecap="butt"/>
<rect x="630.10" y="2240.60" width="63.60" height="44.60" fill="#5B9BD5" stroke="#000" stroke-width="2.9"/>
<rect x="693.70" y="2243.70" width="64.50" height="41.50" fill="#ED7D31" stroke="#000" stroke-width="2.9"/>
<line x1="661.90" y1="2240.60" x2="661.90" y2="2236.60" stroke="#000" stroke-width="2.7" stroke-linecap="butt"/>
<line x1="656.40" y1="2236.60" x2="667.40" y2="2236.60" stroke="#000" stroke-width="2.7" stroke-linecap="butt"/>
<line x1="725.95" y1="2243.70" x2="725.95" y2="2239.00" stroke="#000" stroke-width="2.7" stroke-linecap="butt"/>
<line x1="720.45" y1="2239.00" x2="731.45" y2="2239.00" stroke="#000" stroke-width="2.7" stroke-linecap="butt"/>
<rect x="807.40" y="2240.60" width="63.00" height="44.60" fill="#5B9BD5" stroke="#000" stroke-width="2.9"/>
<rect x="870.40" y="2158.90" width="63.90" height="126.30" fill="#ED7D31" stroke="#000" stroke-width="2.9"/>
<line x1="838.90" y1="2240.60" x2="838.90" y2="2233.50" stroke="#000" stroke-width="2.7" stroke-linecap="butt"/>
<line x1="833.40" y1="2233.50" x2="844.40" y2="2233.50" stroke="#000" stroke-width="2.7" stroke-linecap="butt"/>
<line x1="902.35" y1="2158.90" x2="902.35" y2="2132.10" stroke="#000" stroke-width="2.7" stroke-linecap="butt"/>
<line x1="896.85" y1="2132.10" x2="907.85" y2="2132.10" stroke="#000" stroke-width="2.7" stroke-linecap="butt"/>
<line x1="251.30" y1="2016.85" x2="251.30" y2="2297.20" stroke="#000" stroke-width="3.1" stroke-linecap="butt"/>
<line x1="239.30" y1="2285.20" x2="961.05" y2="2285.20" stroke="#000" stroke-width="3.1" stroke-linecap="butt"/>
<line x1="239.30" y1="2018.40" x2="251.30" y2="2018.40" stroke="#000" stroke-width="3.1" stroke-linecap="butt"/>
<line x1="239.30" y1="2107.30" x2="251.30" y2="2107.30" stroke="#000" stroke-width="3.1" stroke-linecap="butt"/>
<line x1="239.30" y1="2196.00" x2="251.30" y2="2196.00" stroke="#000" stroke-width="3.1" stroke-linecap="butt"/>
<line x1="428.20" y1="2285.20" x2="428.20" y2="2297.20" stroke="#000" stroke-width="3.1" stroke-linecap="butt"/>
<line x1="605.50" y1="2285.20" x2="605.50" y2="2297.20" stroke="#000" stroke-width="3.1" stroke-linecap="butt"/>
<line x1="782.80" y1="2285.20" x2="782.80" y2="2297.20" stroke="#000" stroke-width="3.1" stroke-linecap="butt"/>
<line x1="959.50" y1="2285.20" x2="959.50" y2="2297.20" stroke="#000" stroke-width="3.1" stroke-linecap="butt"/>
<text transform="translate(197.48,2031.04) scale(0.9387,1)" font-family="'Liberation Sans',sans-serif" font-weight="bold" font-size="35.86" fill="#000" stroke="#000" stroke-width="0.63" xml:space="preserve">6</text>
<text transform="translate(198.25,2119.94) scale(0.8472,1)" font-family="'Liberation Sans',sans-serif" font-weight="bold" font-size="35.86" fill="#000" stroke="#000" stroke-width="0.63" xml:space="preserve">4</text>
<text transform="translate(197.54,2208.64) scale(0.9425,1)" font-family="'Liberation Sans',sans-serif" font-weight="bold" font-size="35.86" fill="#000" stroke="#000" stroke-width="0.63" xml:space="preserve">2</text>
<text transform="translate(197.36,2297.84) scale(0.9542,1)" font-family="'Liberation Sans',sans-serif" font-weight="bold" font-size="35.86" fill="#000" stroke="#000" stroke-width="0.63" xml:space="preserve">0</text>
<text transform="translate(267.20,2353.95) scale(0.8956,1)" font-family="'Liberation Sans',sans-serif" font-weight="bold" font-size="39.69" fill="#000" stroke="#000" stroke-width="0.69" xml:space="preserve">p-STAT3</text>
<text transform="translate(461.84,2353.95) scale(0.8829,1)" font-family="'Liberation Sans',sans-serif" font-weight="bold" font-size="39.69" fill="#000" stroke="#000" stroke-width="0.69" xml:space="preserve">STAT3</text>
<text transform="translate(608.93,2353.95) scale(0.9233,1)" font-family="'Liberation Sans',sans-serif" font-weight="bold" font-size="39.69" fill="#000" stroke="#000" stroke-width="0.69" xml:space="preserve">p-C/EBPβ</text>
<text transform="translate(804.17,2353.95) scale(0.9091,1)" font-family="'Liberation Sans',sans-serif" font-weight="bold" font-size="39.69" fill="#000" stroke="#000" stroke-width="0.69" xml:space="preserve">C/EBPβ</text>
<text transform="translate(162.15,2142.87) rotate(-90) scale(0.9196,1)" font-family="'Liberation Sans',sans-serif" font-weight="bold" font-size="39.98" fill="#000" stroke="#000" stroke-width="0.70" xml:space="preserve">myoblasts</text>
<text transform="translate(162.15,2189.74) rotate(-90) scale(0.9922,1)" font-family="'Liberation Sans',sans-serif" font-weight="bold" font-size="39.98" fill="#000" stroke="#000" stroke-width="0.70" xml:space="preserve">to</text>
<text transform="translate(162.15,2342.64) rotate(-90) scale(0.9318,1)" font-family="'Liberation Sans',sans-serif" font-weight="bold" font-size="39.98" fill="#000" stroke="#000" stroke-width="0.70" xml:space="preserve">Relative</text>
<text transform="translate(524.79,1950.45) scale(0.8939,1)" font-family="'Liberation Sans',sans-serif" font-weight="bold" font-size="39.69" fill="#000" stroke="#000" stroke-width="0.69" xml:space="preserve">CHQ cells</text>
<rect x="380.70" y="2399.90" width="23.90" height="23.20" fill="#5B9BD5" stroke="#000" stroke-width="2.8"/>
<text transform="translate(414.83,2424.15) scale(0.9483,1)" font-family="'Liberation Sans',sans-serif" font-weight="bold" font-size="39.69" fill="#000" stroke="#000" stroke-width="0.69" xml:space="preserve">Myoblasts</text>
<rect x="642.20" y="2399.90" width="23.70" height="23.20" fill="#ED7D31" stroke="#000" stroke-width="2.8"/>
<text transform="translate(676.44,2424.15) scale(0.9809,1)" font-family="'Liberation Sans',sans-serif" font-weight="bold" font-size="39.69" fill="#000" stroke="#000" stroke-width="0.69" xml:space="preserve">Myotubes</text>
<text x="310.92" y="2071.94" font-family="'DejaVu Sans',sans-serif" font-size="58.33" fill="#000" stroke="#000" stroke-width="0.9" stroke-linejoin="round">*</text>
<text x="348.62" y="2071.94" font-family="'DejaVu Sans',sans-serif" font-size="58.33" fill="#000" stroke="#000" stroke-width="0.9" stroke-linejoin="round">*</text>
<text x="456.02" y="2071.94" font-family="'DejaVu Sans',sans-serif" font-size="58.33" fill="#000" stroke="#000" stroke-width="0.9" stroke-linejoin="round">*</text>
<text x="494.32" y="2071.94" font-family="'DejaVu Sans',sans-serif" font-size="58.33" fill="#000" stroke="#000" stroke-width="0.9" stroke-linejoin="round">*</text>
<text x="531.42" y="2071.94" font-family="'DejaVu Sans',sans-serif" font-size="58.33" fill="#000" stroke="#000" stroke-width="0.9" stroke-linejoin="round">*</text>
<text x="839.82" y="2071.94" font-family="'DejaVu Sans',sans-serif" font-size="58.33" fill="#000" stroke="#000" stroke-width="0.9" stroke-linejoin="round">*</text>
<text x="877.72" y="2071.94" font-family="'DejaVu Sans',sans-serif" font-size="58.33" fill="#000" stroke="#000" stroke-width="0.9" stroke-linejoin="round">*</text>
<path d="M312.70,2102.00 V2073.10 H378.10 V2102.00" fill="none" stroke="#000" stroke-width="3" stroke-linejoin="miter"/>
<path d="M475.50,2102.00 V2073.10 H541.00 V2102.00" fill="none" stroke="#000" stroke-width="3" stroke-linejoin="miter"/>
<path d="M841.80,2101.40 V2072.20 H907.30 V2101.40" fill="none" stroke="#000" stroke-width="3" stroke-linejoin="miter"/>
<text transform="translate(906.04,631.60) scale(0.9663,1)" font-family="'Liberation Serif',sans-serif" font-weight="normal" font-size="41.50" fill="#000" xml:space="preserve">(</text>
<text transform="translate(920.03,631.60) scale(0.9674,1)" font-family="'Liberation Serif',sans-serif" font-weight="bold" font-size="40.88" fill="#000" xml:space="preserve">a</text>
<text transform="translate(940.51,631.60) scale(0.9663,1)" font-family="'Liberation Serif',sans-serif" font-weight="normal" font-size="41.50" fill="#000" xml:space="preserve">)</text>
<text transform="translate(903.84,1393.00) scale(0.9663,1)" font-family="'Liberation Serif',sans-serif" font-weight="normal" font-size="41.50" fill="#000" xml:space="preserve">(</text>
<text transform="translate(917.94,1393.00) scale(1.0701,1)" font-family="'Liberation Serif',sans-serif" font-weight="bold" font-size="40.88" fill="#000" xml:space="preserve">b</text>
<text transform="translate(942.61,1393.00) scale(0.9663,1)" font-family="'Liberation Serif',sans-serif" font-weight="normal" font-size="41.50" fill="#000" xml:space="preserve">)</text>
<text transform="translate(410.81,2561.10) scale(0.9288,1)" font-family="'Liberation Serif',sans-serif" font-weight="normal" font-size="41.50" fill="#000" xml:space="preserve">(</text>
<text transform="translate(424.38,2561.10) scale(1.0173,1)" font-family="'Liberation Serif',sans-serif" font-weight="bold" font-size="40.88" fill="#000" xml:space="preserve">c</text>
<text transform="translate(443.00,2561.10) scale(0.9757,1)" font-family="'Liberation Serif',sans-serif" font-weight="normal" font-size="41.50" fill="#000" xml:space="preserve">)</text>
<text transform="translate(1401.15,2561.10) scale(1.0133,1)" font-family="'Liberation Serif',sans-serif" font-weight="normal" font-size="41.50" fill="#000" xml:space="preserve">(</text>
<text transform="translate(1415.98,2561.10) scale(1.1010,1)" font-family="'Liberation Serif',sans-serif" font-weight="bold" font-size="40.88" fill="#000" xml:space="preserve">d</text>
<text transform="translate(1440.46,2561.10) scale(1.0039,1)" font-family="'Liberation Serif',sans-serif" font-weight="normal" font-size="41.50" fill="#000" xml:space="preserve">)</text>
<defs><filter id="b1" x="-10%" y="-100%" width="120%" height="300%"><feGaussianBlur stdDeviation="1.6"/></filter><filter id="b2" x="-10%" y="-100%" width="120%" height="300%"><feGaussianBlur stdDeviation="2.5"/></filter><filter id="b3" x="-10%" y="-100%" width="120%" height="300%"><feGaussianBlur stdDeviation="4"/></filter></defs>
<text transform="translate(1291.81,1551.54) scale(0.9374,1)" font-family="'Liberation Sans',sans-serif" font-weight="bold" font-size="29.49" fill="#000" stroke="#000" stroke-width="0.51" xml:space="preserve">Myoblasts</text>
<text transform="translate(1545.35,1551.54) scale(0.9655,1)" font-family="'Liberation Sans',sans-serif" font-weight="bold" font-size="29.49" fill="#000" stroke="#000" stroke-width="0.51" xml:space="preserve">Myotubes</text>
<text transform="translate(1275.26,1603.04) scale(0.9723,1)" font-family="'Liberation Sans',sans-serif" font-weight="bold" font-size="29.77" fill="#000" stroke="#000" stroke-width="0.52" xml:space="preserve">2h</text>
<text transform="translate(1393.28,1603.04) scale(0.9517,1)" font-family="'Liberation Sans',sans-serif" font-weight="bold" font-size="29.77" fill="#000" stroke="#000" stroke-width="0.52" xml:space="preserve">24h</text>
<text transform="translate(1527.57,1603.04) scale(0.9567,1)" font-family="'Liberation Sans',sans-serif" font-weight="bold" font-size="29.77" fill="#000" stroke="#000" stroke-width="0.52" xml:space="preserve">2h</text>
<text transform="translate(1652.46,1603.04) scale(0.9641,1)" font-family="'Liberation Sans',sans-serif" font-weight="bold" font-size="29.77" fill="#000" stroke="#000" stroke-width="0.52" xml:space="preserve">24h</text>
<text transform="translate(1061.85,1655.44) scale(0.9684,1)" font-family="'Liberation Sans',sans-serif" font-weight="bold" font-size="29.49" fill="#000" stroke="#000" stroke-width="0.51" xml:space="preserve">Myostatin</text>
<line x1="1243.60" y1="1566.90" x2="1465.90" y2="1566.90" stroke="#000" stroke-width="3.4" stroke-linecap="butt"/>
<line x1="1499.60" y1="1566.40" x2="1722.10" y2="1566.40" stroke="#000" stroke-width="3.4" stroke-linecap="butt"/>
<line x1="1243.60" y1="1619.20" x2="1342.40" y2="1619.20" stroke="#000" stroke-width="3.4" stroke-linecap="butt"/>
<line x1="1365.00" y1="1619.20" x2="1465.90" y2="1619.20" stroke="#000" stroke-width="3.4" stroke-linecap="butt"/>
<line x1="1499.60" y1="1619.20" x2="1597.90" y2="1619.20" stroke="#000" stroke-width="3.4" stroke-linecap="butt"/>
<line x1="1621.30" y1="1619.20" x2="1722.10" y2="1619.20" stroke="#000" stroke-width="3.4" stroke-linecap="butt"/>
<text transform="translate(1264.67,1654.37) scale(1.1279,1)" font-family="'Liberation Sans',sans-serif" font-weight="bold" font-size="26.33" fill="#000" stroke="#000" stroke-width="0.46" xml:space="preserve">-</text>
<text transform="translate(1323.05,1656.35) scale(1.0709,1)" font-family="'Liberation Sans',sans-serif" font-weight="bold" font-size="26.33" fill="#000" stroke="#000" stroke-width="0.46" xml:space="preserve">+</text>
<text transform="translate(1389.47,1654.37) scale(1.1279,1)" font-family="'Liberation Sans',sans-serif" font-weight="bold" font-size="26.33" fill="#000" stroke="#000" stroke-width="0.46" xml:space="preserve">-</text>
<text transform="translate(1448.85,1656.35) scale(1.0709,1)" font-family="'Liberation Sans',sans-serif" font-weight="bold" font-size="26.33" fill="#000" stroke="#000" stroke-width="0.46" xml:space="preserve">+</text>
<text transform="translate(1514.67,1654.37) scale(1.1279,1)" font-family="'Liberation Sans',sans-serif" font-weight="bold" font-size="26.33" fill="#000" stroke="#000" stroke-width="0.46" xml:space="preserve">-</text>
<text transform="translate(1566.75,1656.35) scale(1.0709,1)" font-family="'Liberation Sans',sans-serif" font-weight="bold" font-size="26.33" fill="#000" stroke="#000" stroke-width="0.46" xml:space="preserve">+</text>
<text transform="translate(1639.07,1654.37) scale(1.1279,1)" font-family="'Liberation Sans',sans-serif" font-weight="bold" font-size="26.33" fill="#000" stroke="#000" stroke-width="0.46" xml:space="preserve">-</text>
<text transform="translate(1698.55,1656.35) scale(1.0709,1)" font-family="'Liberation Sans',sans-serif" font-weight="bold" font-size="26.33" fill="#000" stroke="#000" stroke-width="0.46" xml:space="preserve">+</text>
<text transform="translate(1106.72,1721.04) scale(0.8442,1)" font-family="'Liberation Sans',sans-serif" font-weight="bold" font-size="29.49" fill="#000" stroke="#000" stroke-width="0.51" xml:space="preserve">p-STAT3</text>
<text transform="translate(1133.37,1789.44) scale(0.8100,1)" font-family="'Liberation Sans',sans-serif" font-weight="bold" font-size="29.49" fill="#000" stroke="#000" stroke-width="0.51" xml:space="preserve">STAT3</text>
<text transform="translate(1084.88,1851.14) scale(0.9119,1)" font-family="'Liberation Sans',sans-serif" font-weight="bold" font-size="29.49" fill="#000" stroke="#000" stroke-width="0.51" xml:space="preserve">p-C/EBPβ</text>
<text transform="translate(1112.18,1929.94) scale(0.8941,1)" font-family="'Liberation Sans',sans-serif" font-weight="bold" font-size="29.49" fill="#000" stroke="#000" stroke-width="0.51" xml:space="preserve">C/EBPβ</text>
<text transform="translate(1201.94,2232.06) rotate(-90) scale(0.8498,1)" font-family="'Liberation Sans',sans-serif" font-weight="bold" font-size="29.49" fill="#000" stroke="#000" stroke-width="0.51" xml:space="preserve">Stain</text>
<text transform="translate(1201.94,2159.64) rotate(-90) scale(0.9792,1)" font-family="'Liberation Sans',sans-serif" font-weight="bold" font-size="29.49" fill="#000" stroke="#000" stroke-width="0.51" xml:space="preserve">free</text>
<rect x="1229.5" y="1679.2" width="518.9" height="54.1" fill="#e6e6e6"/>
<clipPath id="c1"><rect x="1229.5" y="1679.2" width="518.9" height="54.1"/></clipPath><g clip-path="url(#c1)">
<rect x="1242" y="1679" width="52.5" height="55" fill="#d8d8d8" opacity="0.7" filter="url(#b2)"/>
<rect x="1300" y="1679" width="54.5" height="55" fill="#d8d8d8" opacity="0.7" filter="url(#b2)"/>
<rect x="1361" y="1679" width="56.5" height="55" fill="#d8d8d8" opacity="0.7" filter="url(#b2)"/>
<rect x="1423" y="1679" width="55.5" height="55" fill="#d8d8d8" opacity="0.7" filter="url(#b2)"/>
<rect x="1483" y="1679" width="58.5" height="55" fill="#d8d8d8" opacity="0.7" filter="url(#b2)"/>
<rect x="1548" y="1679" width="57.5" height="55" fill="#d8d8d8" opacity="0.7" filter="url(#b2)"/>
<rect x="1611" y="1679" width="60.5" height="55" fill="#d8d8d8" opacity="0.7" filter="url(#b2)"/>
<rect x="1675" y="1679" width="62.5" height="55" fill="#d8d8d8" opacity="0.7" filter="url(#b2)"/>
<path d="M1250.0,1708.4 L1286.5,1708.4 Q1296.1,1714.4 1286.5,1720.4 L1250.0,1720.4 Q1240.4,1714.4 1250.0,1708.4 Z" fill="#c4c4c4" opacity="0.8" filter="url(#b3)"/>
<path d="M1249.3,1702.1 L1287.2,1702.1 Q1295.7,1707.4 1287.2,1712.7 L1249.3,1712.7 Q1240.8,1707.4 1249.3,1702.1 Z" fill="#5c5c5c" opacity="0.35" filter="url(#b3)"/>
<path d="M1246.3,1705.1 L1290.2,1705.1 Q1293.9,1707.4 1290.2,1709.7 L1246.3,1709.7 Q1242.6,1707.4 1246.3,1705.1 Z" fill="#5c5c5c" opacity="1.0" filter="url(#b1)"/>
<path d="M1308.0,1708.8 L1346.5,1708.8 Q1356.1,1714.8 1346.5,1720.8 L1308.0,1720.8 Q1298.4,1714.8 1308.0,1708.8 Z" fill="#c4c4c4" opacity="0.8" filter="url(#b3)"/>
<path d="M1307.1,1702.7 L1347.4,1702.7 Q1355.6,1707.8 1347.4,1712.9 L1307.1,1712.9 Q1298.9,1707.8 1307.1,1702.7 Z" fill="#808080" opacity="0.35" filter="url(#b3)"/>
<path d="M1304.1,1705.7 L1350.4,1705.7 Q1353.8,1707.8 1350.4,1709.9 L1304.1,1709.9 Q1300.7,1707.8 1304.1,1705.7 Z" fill="#808080" opacity="1.0" filter="url(#b1)"/>
<path d="M1369.0,1710.0 L1409.5,1710.0 Q1419.1,1716.0 1409.5,1722.0 L1369.0,1722.0 Q1359.4,1716.0 1369.0,1710.0 Z" fill="#c4c4c4" opacity="0.8" filter="url(#b3)"/>
<path d="M1369.4,1702.6 L1409.1,1702.6 Q1419.3,1709.0 1409.1,1715.4 L1369.4,1715.4 Q1359.2,1709.0 1369.4,1702.6 Z" fill="#111" opacity="0.35" filter="url(#b3)"/>
<path d="M1366.4,1705.6 L1412.1,1705.6 Q1417.5,1709.0 1412.1,1712.4 L1366.4,1712.4 Q1361.0,1709.0 1366.4,1705.6 Z" fill="#111" opacity="1.0" filter="url(#b1)"/>
<path d="M1431.0,1710.0 L1470.5,1710.0 Q1480.1,1716.0 1470.5,1722.0 L1431.0,1722.0 Q1421.4,1716.0 1431.0,1710.0 Z" fill="#c4c4c4" opacity="0.8" filter="url(#b3)"/>
<path d="M1432.2,1701.8 L1469.2,1701.8 Q1480.8,1709.0 1469.2,1716.2 L1432.2,1716.2 Q1420.7,1709.0 1432.2,1701.8 Z" fill="#000" opacity="0.35" filter="url(#b3)"/>
<path d="M1429.2,1704.8 L1472.2,1704.8 Q1479.0,1709.0 1472.2,1713.2 L1429.2,1713.2 Q1422.5,1709.0 1429.2,1704.8 Z" fill="#000" opacity="1.0" filter="url(#b1)"/>
<path d="M1491.0,1710.3 L1533.5,1710.3 Q1543.1,1716.3 1533.5,1722.3 L1491.0,1722.3 Q1481.4,1716.3 1491.0,1710.3 Z" fill="#c4c4c4" opacity="0.8" filter="url(#b3)"/>
<path d="M1491.4,1702.9 L1533.1,1702.9 Q1543.3,1709.3 1533.1,1715.7 L1491.4,1715.7 Q1481.2,1709.3 1491.4,1702.9 Z" fill="#181818" opacity="0.35" filter="url(#b3)"/>
<path d="M1488.4,1705.9 L1536.1,1705.9 Q1541.5,1709.3 1536.1,1712.7 L1488.4,1712.7 Q1483.0,1709.3 1488.4,1705.9 Z" fill="#181818" opacity="1.0" filter="url(#b1)"/>
<path d="M1556.0,1710.0 L1597.5,1710.0 Q1607.1,1716.0 1597.5,1722.0 L1556.0,1722.0 Q1546.4,1716.0 1556.0,1710.0 Z" fill="#c4c4c4" opacity="0.8" filter="url(#b3)"/>
<path d="M1555.9,1703.1 L1597.6,1703.1 Q1607.0,1709.0 1597.6,1714.9 L1555.9,1714.9 Q1546.5,1709.0 1555.9,1703.1 Z" fill="#383838" opacity="0.35" filter="url(#b3)"/>
<path d="M1552.9,1706.1 L1600.6,1706.1 Q1605.2,1709.0 1600.6,1711.9 L1552.9,1711.9 Q1548.3,1709.0 1552.9,1706.1 Z" fill="#383838" opacity="1.0" filter="url(#b1)"/>
<path d="M1619.0,1708.0 L1663.5,1708.0 Q1673.1,1714.0 1663.5,1720.0 L1619.0,1720.0 Q1609.4,1714.0 1619.0,1708.0 Z" fill="#c4c4c4" opacity="0.8" filter="url(#b3)"/>
<path d="M1620.8,1700.0 L1661.8,1698.5 Q1674.2,1706.2 1661.8,1714.0 L1620.8,1715.5 Q1608.3,1707.8 1620.8,1700.0 Z" fill="#000" opacity="0.35" filter="url(#b3)"/>
<path d="M1617.8,1703.0 L1664.8,1701.5 Q1672.3,1706.2 1664.8,1711.0 L1617.8,1712.5 Q1610.2,1707.8 1617.8,1703.0 Z" fill="#000" opacity="1.0" filter="url(#b1)"/>
<path d="M1683.0,1706.4 L1729.5,1706.4 Q1739.1,1712.4 1729.5,1718.4 L1683.0,1718.4 Q1673.4,1712.4 1683.0,1706.4 Z" fill="#c4c4c4" opacity="0.8" filter="url(#b3)"/>
<path d="M1683.9,1700.0 L1728.6,1697.0 Q1739.6,1703.9 1728.6,1710.8 L1683.9,1713.8 Q1672.9,1706.9 1683.9,1700.0 Z" fill="#030303" opacity="0.35" filter="url(#b3)"/>
<path d="M1680.9,1703.0 L1731.6,1700.0 Q1737.8,1703.9 1731.6,1707.8 L1680.9,1710.8 Q1674.7,1706.9 1680.9,1703.0 Z" fill="#030303" opacity="1.0" filter="url(#b1)"/>
</g>
<rect x="1231.25" y="1680.95" width="515.40" height="50.60" fill="none" stroke="#000" stroke-width="3.5"/>
<rect x="1229.5" y="1738.3" width="518.9" height="54.2" fill="#e8e8e8"/>
<clipPath id="c2"><rect x="1229.5" y="1738.3" width="518.9" height="54.2"/></clipPath><g clip-path="url(#c2)">
<rect x="1242" y="1738" width="52.5" height="55" fill="#dadada" opacity="0.7" filter="url(#b2)"/>
<rect x="1300" y="1738" width="54.5" height="55" fill="#dadada" opacity="0.7" filter="url(#b2)"/>
<rect x="1361" y="1738" width="56.5" height="55" fill="#dadada" opacity="0.7" filter="url(#b2)"/>
<rect x="1423" y="1738" width="55.5" height="55" fill="#dadada" opacity="0.7" filter="url(#b2)"/>
<rect x="1483" y="1738" width="58.5" height="55" fill="#dadada" opacity="0.7" filter="url(#b2)"/>
<rect x="1548" y="1738" width="57.5" height="55" fill="#dadada" opacity="0.7" filter="url(#b2)"/>
<rect x="1611" y="1738" width="60.5" height="55" fill="#dadada" opacity="0.7" filter="url(#b2)"/>
<rect x="1675" y="1738" width="62.5" height="55" fill="#dadada" opacity="0.7" filter="url(#b2)"/>
<path d="M1250.0,1764.4 L1286.5,1764.4 Q1296.1,1770.4 1286.5,1776.4 L1250.0,1776.4 Q1240.4,1770.4 1250.0,1764.4 Z" fill="#c6c6c6" opacity="0.8" filter="url(#b3)"/>
<path d="M1250.3,1756.4 L1286.2,1757.9 Q1296.3,1764.2 1286.2,1770.5 L1250.3,1769.0 Q1240.2,1762.7 1250.3,1756.4 Z" fill="#080808" opacity="0.35" filter="url(#b3)"/>
<path d="M1247.3,1759.4 L1289.2,1760.9 Q1294.5,1764.2 1289.2,1767.5 L1247.3,1766.0 Q1242.0,1762.7 1247.3,1759.4 Z" fill="#080808" opacity="1.0" filter="url(#b1)"/>
<path d="M1308.0,1765.4 L1346.5,1765.4 Q1356.1,1771.4 1346.5,1777.4 L1308.0,1777.4 Q1298.4,1771.4 1308.0,1765.4 Z" fill="#c6c6c6" opacity="0.8" filter="url(#b3)"/>
<path d="M1308.3,1757.4 L1346.2,1758.9 Q1356.3,1765.2 1346.2,1771.5 L1308.3,1770.0 Q1298.2,1763.7 1308.3,1757.4 Z" fill="#101010" opacity="0.35" filter="url(#b3)"/>
<path d="M1305.3,1760.4 L1349.2,1761.9 Q1354.5,1765.2 1349.2,1768.5 L1305.3,1767.0 Q1300.0,1763.7 1305.3,1760.4 Z" fill="#101010" opacity="1.0" filter="url(#b1)"/>
<path d="M1369.0,1767.4 L1409.5,1767.4 Q1419.1,1773.4 1409.5,1779.4 L1369.0,1779.4 Q1359.4,1773.4 1369.0,1767.4 Z" fill="#c6c6c6" opacity="0.8" filter="url(#b3)"/>
<path d="M1369.0,1759.7 L1409.5,1761.2 Q1419.1,1767.2 1409.5,1773.2 L1369.0,1771.7 Q1359.4,1765.7 1369.0,1759.7 Z" fill="#181818" opacity="0.35" filter="url(#b3)"/>
<path d="M1366.0,1762.7 L1412.5,1764.2 Q1417.3,1767.2 1412.5,1770.2 L1366.0,1768.7 Q1361.2,1765.7 1366.0,1762.7 Z" fill="#181818" opacity="1.0" filter="url(#b1)"/>
<path d="M1431.0,1767.8 L1470.5,1767.8 Q1480.1,1773.8 1470.5,1779.8 L1431.0,1779.8 Q1421.4,1773.8 1431.0,1767.8 Z" fill="#c6c6c6" opacity="0.8" filter="url(#b3)"/>
<path d="M1430.9,1760.1 L1470.6,1761.6 Q1480.0,1767.5 1470.6,1773.5 L1430.9,1772.0 Q1421.5,1766.0 1430.9,1760.1 Z" fill="#1e1e1e" opacity="0.35" filter="url(#b3)"/>
<path d="M1427.9,1763.1 L1473.6,1764.6 Q1478.2,1767.5 1473.6,1770.5 L1427.9,1769.0 Q1423.3,1766.0 1427.9,1763.1 Z" fill="#1e1e1e" opacity="1.0" filter="url(#b1)"/>
<path d="M1491.0,1770.3 L1533.5,1770.3 Q1543.1,1776.3 1533.5,1782.3 L1491.0,1782.3 Q1481.4,1776.3 1491.0,1770.3 Z" fill="#c6c6c6" opacity="0.8" filter="url(#b3)"/>
<path d="M1492.2,1762.1 L1532.3,1762.1 Q1543.8,1769.3 1532.3,1776.5 L1492.2,1776.5 Q1480.7,1769.3 1492.2,1762.1 Z" fill="#000" opacity="0.35" filter="url(#b3)"/>
<path d="M1489.2,1765.1 L1535.3,1765.1 Q1542.0,1769.3 1535.3,1773.5 L1489.2,1773.5 Q1482.5,1769.3 1489.2,1765.1 Z" fill="#000" opacity="1.0" filter="url(#b1)"/>
<path d="M1556.0,1771.0 L1597.5,1771.0 Q1607.1,1777.0 1597.5,1783.0 L1556.0,1783.0 Q1546.4,1777.0 1556.0,1771.0 Z" fill="#c6c6c6" opacity="0.8" filter="url(#b3)"/>
<path d="M1557.2,1762.8 L1596.3,1762.8 Q1607.8,1770.0 1596.3,1777.2 L1557.2,1777.2 Q1545.7,1770.0 1557.2,1762.8 Z" fill="#000" opacity="0.35" filter="url(#b3)"/>
<path d="M1554.2,1765.8 L1599.3,1765.8 Q1606.0,1770.0 1599.3,1774.2 L1554.2,1774.2 Q1547.5,1770.0 1554.2,1765.8 Z" fill="#000" opacity="1.0" filter="url(#b1)"/>
<path d="M1619.0,1770.0 L1663.5,1770.0 Q1673.1,1776.0 1663.5,1782.0 L1619.0,1782.0 Q1609.4,1776.0 1619.0,1770.0 Z" fill="#c6c6c6" opacity="0.8" filter="url(#b3)"/>
<path d="M1619.8,1763.0 L1662.7,1761.5 Q1673.6,1768.2 1662.7,1775.0 L1619.8,1776.5 Q1608.9,1769.8 1619.8,1763.0 Z" fill="#030303" opacity="0.35" filter="url(#b3)"/>
<path d="M1616.8,1766.0 L1665.7,1764.5 Q1671.8,1768.2 1665.7,1772.0 L1616.8,1773.5 Q1610.7,1769.8 1616.8,1766.0 Z" fill="#030303" opacity="1.0" filter="url(#b1)"/>
<path d="M1683.0,1769.0 L1729.5,1769.0 Q1739.1,1775.0 1729.5,1781.0 L1683.0,1781.0 Q1673.4,1775.0 1683.0,1769.0 Z" fill="#c6c6c6" opacity="0.8" filter="url(#b3)"/>
<path d="M1683.8,1762.0 L1728.7,1760.5 Q1739.6,1767.2 1728.7,1774.0 L1683.8,1775.5 Q1672.9,1768.8 1683.8,1762.0 Z" fill="#030303" opacity="0.35" filter="url(#b3)"/>
<path d="M1680.8,1765.0 L1731.7,1763.5 Q1737.8,1767.2 1731.7,1771.0 L1680.8,1772.5 Q1674.7,1768.8 1680.8,1765.0 Z" fill="#030303" opacity="1.0" filter="url(#b1)"/>
</g>
<rect x="1231.25" y="1740.05" width="515.40" height="50.70" fill="none" stroke="#000" stroke-width="3.5"/>
<rect x="1229.5" y="1797.4" width="520.3" height="92.7" fill="#c9c9c9"/>
<clipPath id="c3"><rect x="1229.5" y="1797.4" width="520.3" height="92.7"/></clipPath><g clip-path="url(#c3)">
<rect x="1242" y="1797" width="52.5" height="94" fill="#bfbfbf" opacity="0.7" filter="url(#b2)"/>
<rect x="1300" y="1797" width="54.5" height="94" fill="#bfbfbf" opacity="0.7" filter="url(#b2)"/>
<rect x="1361" y="1797" width="56.5" height="94" fill="#bfbfbf" opacity="0.7" filter="url(#b2)"/>
<rect x="1423" y="1797" width="55.5" height="94" fill="#bfbfbf" opacity="0.7" filter="url(#b2)"/>
<rect x="1483" y="1797" width="58.5" height="94" fill="#bfbfbf" opacity="0.7" filter="url(#b2)"/>
<rect x="1548" y="1797" width="57.5" height="94" fill="#bfbfbf" opacity="0.7" filter="url(#b2)"/>
<rect x="1611" y="1797" width="60.5" height="94" fill="#bfbfbf" opacity="0.7" filter="url(#b2)"/>
<rect x="1675" y="1797" width="62.5" height="94" fill="#bfbfbf" opacity="0.7" filter="url(#b2)"/>
<path d="M1254.0,1810.8 L1282.5,1810.8 Q1298.5,1820.8 1282.5,1830.8 L1254.0,1830.8 Q1238.0,1820.8 1254.0,1810.8 Z" fill="#a2a2a2" opacity="0.9" filter="url(#b3)"/>
<path d="M1246.5,1812.9 L1290.0,1812.9 Q1294.0,1815.4 1290.0,1817.9 L1246.5,1817.9 Q1242.5,1815.4 1246.5,1812.9 Z" fill="#7c7c7c" opacity="0.85" filter="url(#b2)"/>
<path d="M1246.8,1823.5 L1289.8,1823.5 Q1294.2,1826.2 1289.8,1829.0 L1246.8,1829.0 Q1242.3,1826.2 1246.8,1823.5 Z" fill="#808080" opacity="0.85" filter="url(#b2)"/>
<path d="M1246.5,1868.5 L1290.0,1868.5 Q1294.0,1871.0 1290.0,1873.5 L1246.5,1873.5 Q1242.5,1871.0 1246.5,1868.5 Z" fill="#a8a8a8" opacity="0.9" filter="url(#b2)"/>
<path d="M1312.0,1810.8 L1342.5,1810.8 Q1358.5,1820.8 1342.5,1830.8 L1312.0,1830.8 Q1296.0,1820.8 1312.0,1810.8 Z" fill="#a2a2a2" opacity="0.9" filter="url(#b3)"/>
<path d="M1304.5,1812.9 L1350.0,1812.9 Q1354.0,1815.4 1350.0,1817.9 L1304.5,1817.9 Q1300.5,1815.4 1304.5,1812.9 Z" fill="#7c7c7c" opacity="0.85" filter="url(#b2)"/>
<path d="M1304.8,1823.5 L1349.8,1823.5 Q1354.2,1826.2 1349.8,1829.0 L1304.8,1829.0 Q1300.3,1826.2 1304.8,1823.5 Z" fill="#808080" opacity="0.85" filter="url(#b2)"/>
<path d="M1304.5,1868.5 L1350.0,1868.5 Q1354.0,1871.0 1350.0,1873.5 L1304.5,1873.5 Q1300.5,1871.0 1304.5,1868.5 Z" fill="#a8a8a8" opacity="0.9" filter="url(#b2)"/>
<path d="M1373.0,1811.2 L1405.5,1811.2 Q1421.5,1821.2 1405.5,1831.2 L1373.0,1831.2 Q1357.0,1821.2 1373.0,1811.2 Z" fill="#a2a2a2" opacity="0.9" filter="url(#b3)"/>
<path d="M1365.5,1813.5 L1413.0,1813.5 Q1417.0,1816.0 1413.0,1818.5 L1365.5,1818.5 Q1361.5,1816.0 1365.5,1813.5 Z" fill="#7c7c7c" opacity="0.85" filter="url(#b2)"/>
<path d="M1365.8,1823.8 L1412.8,1823.8 Q1417.2,1826.5 1412.8,1829.2 L1365.8,1829.2 Q1361.3,1826.5 1365.8,1823.8 Z" fill="#808080" opacity="0.85" filter="url(#b2)"/>
<path d="M1365.5,1868.5 L1413.0,1868.5 Q1417.0,1871.0 1413.0,1873.5 L1365.5,1873.5 Q1361.5,1871.0 1365.5,1868.5 Z" fill="#a8a8a8" opacity="0.9" filter="url(#b2)"/>
<path d="M1435.0,1811.2 L1466.5,1811.2 Q1482.5,1821.2 1466.5,1831.2 L1435.0,1831.2 Q1419.0,1821.2 1435.0,1811.2 Z" fill="#a2a2a2" opacity="0.9" filter="url(#b3)"/>
<path d="M1427.5,1813.5 L1474.0,1813.5 Q1478.0,1816.0 1474.0,1818.5 L1427.5,1818.5 Q1423.5,1816.0 1427.5,1813.5 Z" fill="#7c7c7c" opacity="0.85" filter="url(#b2)"/>
<path d="M1427.8,1823.8 L1473.8,1823.8 Q1478.2,1826.5 1473.8,1829.2 L1427.8,1829.2 Q1423.3,1826.5 1427.8,1823.8 Z" fill="#808080" opacity="0.85" filter="url(#b2)"/>
<path d="M1427.5,1868.5 L1474.0,1868.5 Q1478.0,1871.0 1474.0,1873.5 L1427.5,1873.5 Q1423.5,1871.0 1427.5,1868.5 Z" fill="#a8a8a8" opacity="0.9" filter="url(#b2)"/>
<path d="M1495.0,1810.6 L1529.5,1810.6 Q1545.5,1820.6 1529.5,1830.6 L1495.0,1830.6 Q1479.0,1820.6 1495.0,1810.6 Z" fill="#a2a2a2" opacity="0.9" filter="url(#b3)"/>
<path d="M1487.5,1813.9 L1537.0,1813.9 Q1541.0,1816.4 1537.0,1818.9 L1487.5,1818.9 Q1483.5,1816.4 1487.5,1813.9 Z" fill="#7c7c7c" opacity="0.85" filter="url(#b2)"/>
<path d="M1487.8,1822.0 L1536.8,1822.0 Q1541.2,1824.8 1536.8,1827.5 L1487.8,1827.5 Q1483.3,1824.8 1487.8,1822.0 Z" fill="#808080" opacity="0.85" filter="url(#b2)"/>
<path d="M1487.5,1868.5 L1537.0,1868.5 Q1541.0,1871.0 1537.0,1873.5 L1487.5,1873.5 Q1483.5,1871.0 1487.5,1868.5 Z" fill="#a8a8a8" opacity="0.9" filter="url(#b2)"/>
<path d="M1560.0,1810.6 L1593.5,1810.6 Q1609.5,1820.6 1593.5,1830.6 L1560.0,1830.6 Q1544.0,1820.6 1560.0,1810.6 Z" fill="#a2a2a2" opacity="0.9" filter="url(#b3)"/>
<path d="M1552.5,1813.9 L1601.0,1813.9 Q1605.0,1816.4 1601.0,1818.9 L1552.5,1818.9 Q1548.5,1816.4 1552.5,1813.9 Z" fill="#7c7c7c" opacity="0.85" filter="url(#b2)"/>
<path d="M1552.8,1822.0 L1600.8,1822.0 Q1605.2,1824.8 1600.8,1827.5 L1552.8,1827.5 Q1548.3,1824.8 1552.8,1822.0 Z" fill="#808080" opacity="0.85" filter="url(#b2)"/>
<path d="M1552.5,1868.5 L1601.0,1868.5 Q1605.0,1871.0 1601.0,1873.5 L1552.5,1873.5 Q1548.5,1871.0 1552.5,1868.5 Z" fill="#a8a8a8" opacity="0.9" filter="url(#b2)"/>
<path d="M1623.0,1807.8 L1659.5,1807.8 Q1675.5,1817.8 1659.5,1827.8 L1623.0,1827.8 Q1607.0,1817.8 1623.0,1807.8 Z" fill="#a2a2a2" opacity="0.9" filter="url(#b3)"/>
<path d="M1615.5,1810.9 L1667.0,1810.9 Q1671.0,1813.4 1667.0,1815.9 L1615.5,1815.9 Q1611.5,1813.4 1615.5,1810.9 Z" fill="#7c7c7c" opacity="0.85" filter="url(#b2)"/>
<path d="M1615.8,1819.5 L1666.8,1819.5 Q1671.2,1822.3 1666.8,1825.0 L1615.8,1825.0 Q1611.3,1822.3 1615.8,1819.5 Z" fill="#808080" opacity="0.85" filter="url(#b2)"/>
<path d="M1615.5,1868.5 L1667.0,1868.5 Q1671.0,1871.0 1667.0,1873.5 L1615.5,1873.5 Q1611.5,1871.0 1615.5,1868.5 Z" fill="#a8a8a8" opacity="0.9" filter="url(#b2)"/>
<path d="M1687.0,1805.7 L1725.5,1805.7 Q1741.5,1815.7 1725.5,1825.7 L1687.0,1825.7 Q1671.0,1815.7 1687.0,1805.7 Z" fill="#a2a2a2" opacity="0.9" filter="url(#b3)"/>
<path d="M1679.5,1809.0 L1733.0,1809.0 Q1737.0,1811.5 1733.0,1814.0 L1679.5,1814.0 Q1675.5,1811.5 1679.5,1809.0 Z" fill="#7c7c7c" opacity="0.85" filter="url(#b2)"/>
<path d="M1679.8,1817.0 L1732.8,1817.0 Q1737.2,1819.8 1732.8,1822.5 L1679.8,1822.5 Q1675.3,1819.8 1679.8,1817.0 Z" fill="#808080" opacity="0.85" filter="url(#b2)"/>
<path d="M1679.5,1868.5 L1733.0,1868.5 Q1737.0,1871.0 1733.0,1873.5 L1679.5,1873.5 Q1675.5,1871.0 1679.5,1868.5 Z" fill="#a8a8a8" opacity="0.9" filter="url(#b2)"/>
</g>
<rect x="1231.25" y="1799.15" width="516.80" height="89.20" fill="none" stroke="#000" stroke-width="3.5"/>
<rect x="1229.5" y="1895.1" width="518.9" height="72.7" fill="#d2d2d2"/>
<clipPath id="c4"><rect x="1229.5" y="1895.1" width="518.9" height="72.7"/></clipPath><g clip-path="url(#c4)">
<rect x="1242" y="1895" width="52.5" height="73" fill="#cacaca" opacity="0.6" filter="url(#b2)"/>
<rect x="1300" y="1895" width="54.5" height="73" fill="#cacaca" opacity="0.6" filter="url(#b2)"/>
<rect x="1361" y="1895" width="56.5" height="73" fill="#cacaca" opacity="0.6" filter="url(#b2)"/>
<rect x="1423" y="1895" width="55.5" height="73" fill="#cacaca" opacity="0.6" filter="url(#b2)"/>
<rect x="1483" y="1895" width="58.5" height="73" fill="#cacaca" opacity="0.6" filter="url(#b2)"/>
<rect x="1548" y="1895" width="57.5" height="73" fill="#cacaca" opacity="0.6" filter="url(#b2)"/>
<rect x="1611" y="1895" width="60.5" height="73" fill="#cacaca" opacity="0.6" filter="url(#b2)"/>
<rect x="1675" y="1895" width="62.5" height="73" fill="#cacaca" opacity="0.6" filter="url(#b2)"/>
<path d="M1246.1,1947.5 L1290.4,1949.0 Q1293.8,1951.0 1290.4,1953.1 L1246.1,1951.6 Q1242.7,1949.5 1246.1,1947.5 Z" fill="#626262" opacity="1.0" filter="url(#b1)"/>
<path d="M1304.1,1950.1 L1350.4,1951.1 Q1353.8,1953.2 1350.4,1955.3 L1304.1,1954.3 Q1300.7,1952.2 1304.1,1950.1 Z" fill="#686868" opacity="1.0" filter="url(#b1)"/>
<path d="M1364.6,1951.9 L1413.9,1951.9 Q1416.5,1953.5 1413.9,1955.1 L1364.6,1955.1 Q1362.0,1953.5 1364.6,1951.9 Z" fill="#959595" opacity="1.0" filter="url(#b1)"/>
<path d="M1426.6,1951.9 L1474.9,1951.9 Q1477.5,1953.5 1474.9,1955.1 L1426.6,1955.1 Q1424.0,1953.5 1426.6,1951.9 Z" fill="#9c9c9c" opacity="1.0" filter="url(#b1)"/>
<path d="M1489.0,1906.8 L1535.5,1906.8 Q1541.9,1910.8 1535.5,1914.8 L1489.0,1914.8 Q1482.6,1910.8 1489.0,1906.8 Z" fill="#030303" opacity="1.0" filter="url(#b1)"/>
<path d="M1554.2,1905.5 L1599.2,1905.5 Q1606.0,1909.8 1599.2,1914.0 L1554.2,1914.0 Q1547.5,1909.8 1554.2,1905.5 Z" fill="#000" opacity="1.0" filter="url(#b1)"/>
<path d="M1614.5,1907.4 L1668.0,1905.4 Q1670.4,1906.9 1668.0,1908.4 L1614.5,1910.4 Q1612.1,1908.9 1614.5,1907.4 Z" fill="#8a8a8a" opacity="1.0" filter="url(#b1)"/>
<path d="M1678.5,1904.9 L1734.0,1901.9 Q1736.4,1903.4 1734.0,1904.9 L1678.5,1907.9 Q1676.1,1906.4 1678.5,1904.9 Z" fill="#7c7c7c" opacity="1.0" filter="url(#b1)"/>
</g>
<rect x="1231.25" y="1896.85" width="515.40" height="69.20" fill="none" stroke="#000" stroke-width="3.5"/>
<clipPath id="c5"><rect x="1229.2" y="1973.5" width="520.5999999999999" height="484.3000000000002"/></clipPath>
<linearGradient id="g5" gradientUnits="userSpaceOnUse" x1="0" y1="1973.5" x2="0" y2="2457.8"><stop offset="0.0031" stop-color="#b2b2b2"/><stop offset="0.1580" stop-color="#acacac"/><stop offset="0.3025" stop-color="#a5a5a5"/><stop offset="0.4099" stop-color="#9c9c9c"/><stop offset="0.5131" stop-color="#949494"/><stop offset="0.5338" stop-color="#8c8c8c"/><stop offset="0.5503" stop-color="#a8a8a8"/><stop offset="0.5957" stop-color="#a5a5a5"/><stop offset="0.6638" stop-color="#9a9a9a"/><stop offset="0.7320" stop-color="#989898"/><stop offset="0.7774" stop-color="#a9a9a9"/><stop offset="0.8807" stop-color="#b2b2b2"/><stop offset="0.9963" stop-color="#b8b8b8"/></linearGradient>
<rect x="1229.2" y="1973.5" width="520.5999999999999" height="484.3000000000002" fill="url(#g5)"/>
<g clip-path="url(#c5)">
<rect x="1366" y="2171" width="112" height="16" fill="#858585" opacity="0.7" filter="url(#b3)"/>
<path d="M1240.0,2043.8 L1277.0,2044.0 L1327.0,2044.8 L1389.0,2045.0 L1450.0,2044.9 L1514.0,2045.0 L1576.0,2044.5 L1640.0,2043.7 L1702.0,2043.1 L1742.0,2042.8 L1760.0,2042.7" fill="none" stroke="#9a9a9a" stroke-width="3" opacity="0.7" filter="url(#b2)"/>
<path d="M1240.0,2099.8 L1277.0,2100.0 L1327.0,2101.3 L1389.0,2101.7 L1450.0,2101.6 L1514.0,2101.7 L1576.0,2100.8 L1640.0,2099.5 L1702.0,2098.5 L1742.0,2098.0 L1760.0,2097.8" fill="none" stroke="#9c9c9c" stroke-width="3" opacity="0.5" filter="url(#b2)"/>
<path d="M1240.0,2149.6 L1277.0,2150.0 L1327.0,2152.1 L1389.0,2152.7 L1450.0,2152.5 L1514.0,2152.7 L1576.0,2151.4 L1640.0,2149.2 L1702.0,2147.6 L1742.0,2146.8 L1760.0,2146.6" fill="none" stroke="#959595" stroke-width="4" opacity="0.6" filter="url(#b2)"/>
<path d="M1240.0,2181.9 L1277.0,2182.4 L1327.0,2185.0 L1389.0,2185.8 L1450.0,2185.5 L1514.0,2185.8 L1576.0,2184.1 L1640.0,2181.4 L1702.0,2179.4 L1742.0,2178.4 L1760.0,2178.1" fill="none" stroke="#858585" stroke-width="4" opacity="0.8" filter="url(#b2)"/>
<path d="M1240.0,2191.3 L1277.0,2191.8 L1327.0,2194.4 L1389.0,2195.2 L1450.0,2194.9 L1514.0,2195.2 L1576.0,2193.5 L1640.0,2190.8 L1702.0,2188.8 L1742.0,2187.8 L1760.0,2187.5" fill="none" stroke="#808080" stroke-width="4" opacity="0.85" filter="url(#b2)"/>
<path d="M1240.0,2205.1 L1277.0,2205.6 L1327.0,2208.2 L1389.0,2209.0 L1450.0,2208.7 L1514.0,2209.0 L1576.0,2207.3 L1640.0,2204.6 L1702.0,2202.6 L1742.0,2201.6 L1760.0,2201.3" fill="none" stroke="#6a6a6a" stroke-width="4.5" opacity="0.9" filter="url(#b2)"/>
<path d="M1240.0,2227.0 L1277.0,2227.5 L1327.0,2230.1 L1389.0,2230.9 L1450.0,2230.6 L1514.0,2230.9 L1576.0,2229.2 L1640.0,2226.5 L1702.0,2224.5 L1742.0,2223.5 L1760.0,2223.2" fill="none" stroke="#747474" stroke-width="10" opacity="0.55" filter="url(#b2)"/>
<path d="M1240.0,2233.8 L1277.0,2234.3 L1327.0,2236.9 L1389.0,2237.7 L1450.0,2237.4 L1514.0,2237.7 L1576.0,2236.0 L1640.0,2233.3 L1702.0,2231.3 L1742.0,2230.3 L1760.0,2230.0" fill="none" stroke="#0a0a0a" stroke-width="4.2" opacity="1" filter="url(#b1)"/>
<path d="M1240.0,2264.5 L1277.0,2265.0 L1327.0,2268.4 L1389.0,2268.8 L1450.0,2268.8 L1514.0,2267.6 L1576.0,2265.9 L1640.0,2263.2 L1702.0,2261.0 L1742.0,2260.0 L1760.0,2259.7" fill="none" stroke="#626262" stroke-width="3.6" opacity="0.9" filter="url(#b1)"/>
<path d="M1240.0,2282.5 L1277.0,2283.0 L1327.0,2286.4 L1389.0,2286.8 L1450.0,2286.8 L1514.0,2285.6 L1576.0,2283.9 L1640.0,2281.2 L1702.0,2279.0 L1742.0,2278.0 L1760.0,2277.7" fill="none" stroke="#808080" stroke-width="3.5" opacity="0.8" filter="url(#b2)"/>
<path d="M1240.0,2302.6 L1277.0,2303.0 L1327.0,2304.7 L1389.0,2305.1 L1450.0,2303.9 L1514.0,2303.9 L1576.0,2301.3 L1640.0,2298.7 L1702.0,2296.2 L1742.0,2294.8 L1760.0,2294.2" fill="none" stroke="#858585" stroke-width="4" opacity="0.8" filter="url(#b2)"/>
<path d="M1240.0,2317.6 L1277.0,2318.0 L1327.0,2319.7 L1389.0,2320.1 L1450.0,2318.9 L1514.0,2318.9 L1576.0,2316.3 L1640.0,2313.7 L1702.0,2311.2 L1742.0,2309.8 L1760.0,2309.2" fill="none" stroke="#808080" stroke-width="5" opacity="0.85" filter="url(#b2)"/>
<path d="M1240.0,2326.6 L1277.0,2327.0 L1327.0,2328.7 L1389.0,2329.1 L1450.0,2327.9 L1514.0,2327.9 L1576.0,2325.3 L1640.0,2322.7 L1702.0,2320.2 L1742.0,2318.8 L1760.0,2318.2" fill="none" stroke="#858585" stroke-width="3" opacity="0.7" filter="url(#b2)"/>
<path d="M1240.0,2339.4 L1277.0,2339.8 L1327.0,2341.5 L1389.0,2341.9 L1450.0,2340.7 L1514.0,2340.7 L1576.0,2338.1 L1640.0,2335.5 L1702.0,2333.0 L1742.0,2331.6 L1760.0,2331.0" fill="none" stroke="#6c6c6c" stroke-width="4" opacity="0.9" filter="url(#b2)"/>
<path d="M1240.0,2379.9 L1277.0,2380.3 L1327.0,2382.0 L1389.0,2382.4 L1450.0,2381.2 L1514.0,2381.2 L1576.0,2378.6 L1640.0,2376.0 L1702.0,2373.5 L1742.0,2372.1 L1760.0,2371.5" fill="none" stroke="#9c9c9c" stroke-width="3" opacity="0.7" filter="url(#b2)"/>
<path d="M1240.0,2395.4 L1277.0,2395.8 L1327.0,2397.5 L1389.0,2397.9 L1450.0,2396.7 L1514.0,2396.7 L1576.0,2394.1 L1640.0,2391.5 L1702.0,2389.0 L1742.0,2387.6 L1760.0,2387.0" fill="none" stroke="#9c9c9c" stroke-width="3" opacity="0.7" filter="url(#b2)"/>
<path d="M1240.0,2417.6 L1277.0,2418.0 L1327.0,2419.7 L1389.0,2420.1 L1450.0,2418.9 L1514.0,2418.9 L1576.0,2416.3 L1640.0,2413.7 L1702.0,2411.2 L1742.0,2409.8 L1760.0,2409.2" fill="none" stroke="#999" stroke-width="3.5" opacity="0.8" filter="url(#b2)"/>
<path d="M1240.0,2428.1 L1277.0,2428.5 L1327.0,2430.2 L1389.0,2430.6 L1450.0,2429.4 L1514.0,2429.4 L1576.0,2426.8 L1640.0,2424.2 L1702.0,2421.7 L1742.0,2420.3 L1760.0,2419.7" fill="none" stroke="#9c9c9c" stroke-width="3" opacity="0.7" filter="url(#b2)"/>
<path d="M1292.0,1973.5 L1300.4,1973.5 L1310.5,2457.8 L1302.1,2457.8 Z" fill="#b7b7b7" opacity="0.95" filter="url(#b1)"/>
<path d="M1352.8,1973.5 L1361.2,1973.5 L1370.6,2457.8 L1362.2,2457.8 Z" fill="#b7b7b7" opacity="0.95" filter="url(#b1)"/>
<path d="M1411.7,1973.5 L1420.1,1973.5 L1432.2,2457.8 L1423.8,2457.8 Z" fill="#b7b7b7" opacity="0.95" filter="url(#b1)"/>
<path d="M1470.5,1973.5 L1478.9,1973.5 L1493.1,2457.8 L1484.7,2457.8 Z" fill="#b7b7b7" opacity="0.95" filter="url(#b1)"/>
<path d="M1528.0,1973.5 L1537.4,1973.5 L1554.4,2457.8 L1545.0,2457.8 Z" fill="#bbbbbb" opacity="0.95" filter="url(#b1)"/>
<path d="M1587.5,1973.5 L1598.1,1973.5 L1616.0,2457.8 L1605.4,2457.8 Z" fill="#c0c0c0" opacity="0.95" filter="url(#b1)"/>
<path d="M1650.9,1973.5 L1661.5,1973.5 L1680.5,2457.8 L1669.9,2457.8 Z" fill="#c0c0c0" opacity="0.95" filter="url(#b1)"/>
<path d="M1714.3,1973.5 L1724.9,1973.5 L1746.0,2457.8 L1735.4,2457.8 Z" fill="#c0c0c0" opacity="0.95" filter="url(#b1)"/>
<path d="M1727,1973.5 L1752,1973.5 L1752,2457.8 L1748,2457.8 Z" fill="#8c8c8c" opacity="0.45" filter="url(#b1)"/>
<rect x="1223.2" y="1963.5" width="29" height="504.3000000000002" fill="#b4b4b4" filter="url(#b2)"/>
<ellipse cx="1239" cy="2063" rx="3.5" ry="3" fill="#d0d0d0" opacity="0.8" filter="url(#b2)"/>
<ellipse cx="1239" cy="2079" rx="3.5" ry="3" fill="#d0d0d0" opacity="0.8" filter="url(#b2)"/>
<ellipse cx="1239" cy="2209" rx="3.5" ry="3" fill="#d0d0d0" opacity="0.8" filter="url(#b2)"/>
<ellipse cx="1239" cy="2256" rx="3.5" ry="3" fill="#d0d0d0" opacity="0.8" filter="url(#b2)"/>
<ellipse cx="1239" cy="2324" rx="3.5" ry="3" fill="#d0d0d0" opacity="0.8" filter="url(#b2)"/>
</g>
<rect x="1230.95" y="1975.25" width="517.10" height="480.80" fill="none" stroke="#000" stroke-width="3.5"/>
</svg></body></html>
